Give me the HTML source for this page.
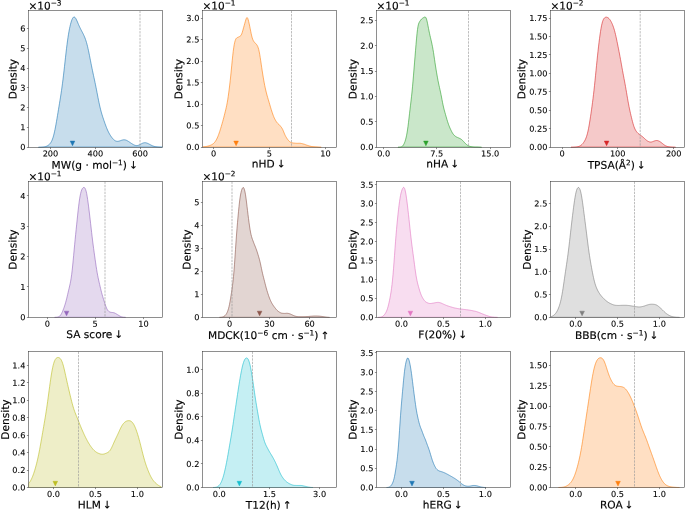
<!DOCTYPE html>
<html lang="en"><head><meta charset="utf-8"><title>ADMET property density plots</title>
<style>html,body{margin:0;padding:0;background:#fff}body{width:685px;height:510px;overflow:hidden}text{fill:#000;stroke:#000;stroke-width:0.16px;stroke-linejoin:round}.t{stroke-width:0.1px}</style></head>
<body>
<svg width="685" height="510" viewBox="0 0 685 510" text-rendering="geometricPrecision" style="display:block;font-family:'DejaVu Sans','Liberation Sans',sans-serif">
<rect width="685" height="510" fill="#fff"/>
<defs>
<clipPath id="c0"><rect x="28.50" y="10.70" width="134.00" height="136.80"/></clipPath>
<clipPath id="c1"><rect x="202.50" y="10.70" width="134.00" height="136.80"/></clipPath>
<clipPath id="c2"><rect x="376.50" y="10.70" width="134.00" height="136.80"/></clipPath>
<clipPath id="c3"><rect x="550.50" y="10.70" width="134.00" height="136.80"/></clipPath>
<clipPath id="c4"><rect x="28.50" y="181.50" width="134.00" height="136.00"/></clipPath>
<clipPath id="c5"><rect x="202.50" y="181.50" width="134.00" height="136.00"/></clipPath>
<clipPath id="c6"><rect x="376.50" y="181.50" width="134.00" height="136.00"/></clipPath>
<clipPath id="c7"><rect x="550.50" y="181.50" width="134.00" height="136.00"/></clipPath>
<clipPath id="c8"><rect x="28.50" y="351.50" width="134.00" height="136.00"/></clipPath>
<clipPath id="c9"><rect x="202.50" y="351.50" width="134.00" height="136.00"/></clipPath>
<clipPath id="c10"><rect x="376.50" y="351.50" width="134.00" height="136.00"/></clipPath>
<clipPath id="c11"><rect x="550.50" y="351.50" width="134.00" height="136.00"/></clipPath>
</defs>
<g id="ax0">
<g clip-path="url(#c0)">
<path d="M38.50 147.49 L39.00 147.48 L39.50 147.47 L40.00 147.46 L40.50 147.44 L41.00 147.42 L41.50 147.39 L42.00 147.35 L42.50 147.29 L43.00 147.23 L43.50 147.15 L44.00 147.05 L44.50 146.94 L45.00 146.80 L45.50 146.64 L46.00 146.46 L46.50 146.25 L47.00 146.01 L47.50 145.74 L48.00 145.44 L48.50 145.09 L49.00 144.69 L49.50 144.22 L50.00 143.68 L50.50 143.03 L51.00 142.27 L51.50 141.37 L52.00 140.30 L52.50 139.04 L53.00 137.57 L53.50 135.89 L54.00 133.98 L54.50 131.84 L55.00 129.48 L55.50 126.93 L56.00 124.22 L56.50 121.37 L57.00 118.43 L57.50 115.43 L58.00 112.40 L58.50 109.37 L59.00 106.34 L59.50 103.30 L60.00 100.23 L60.50 97.11 L61.00 93.89 L61.50 90.53 L62.00 86.99 L62.50 83.25 L63.00 79.30 L63.50 75.14 L64.00 70.81 L64.50 66.35 L65.00 61.84 L65.50 57.34 L66.00 52.92 L66.50 48.67 L67.00 44.64 L67.50 40.87 L68.00 37.39 L68.50 34.21 L69.00 31.33 L69.50 28.72 L70.00 26.39 L70.50 24.30 L71.00 22.46 L71.50 20.87 L72.00 19.52 L72.50 18.45 L73.00 17.66 L73.50 17.16 L74.00 16.96 L74.50 17.05 L75.00 17.42 L75.50 18.03 L76.00 18.85 L76.50 19.83 L77.00 20.92 L77.50 22.07 L78.00 23.24 L78.50 24.41 L79.00 25.55 L79.50 26.65 L80.00 27.70 L80.50 28.71 L81.00 29.70 L81.50 30.66 L82.00 31.61 L82.50 32.56 L83.00 33.54 L83.50 34.56 L84.00 35.63 L84.50 36.77 L85.00 38.01 L85.50 39.37 L86.00 40.86 L86.50 42.51 L87.00 44.32 L87.50 46.30 L88.00 48.44 L88.50 50.73 L89.00 53.14 L89.50 55.65 L90.00 58.20 L90.50 60.78 L91.00 63.34 L91.50 65.86 L92.00 68.32 L92.50 70.72 L93.00 73.08 L93.50 75.40 L94.00 77.71 L94.50 80.03 L95.00 82.40 L95.50 84.82 L96.00 87.30 L96.50 89.84 L97.00 92.43 L97.50 95.02 L98.00 97.60 L98.50 100.13 L99.00 102.57 L99.50 104.90 L100.00 107.10 L100.50 109.16 L101.00 111.09 L101.50 112.88 L102.00 114.58 L102.50 116.18 L103.00 117.72 L103.50 119.22 L104.00 120.68 L104.50 122.12 L105.00 123.53 L105.50 124.91 L106.00 126.26 L106.50 127.55 L107.00 128.79 L107.50 129.97 L108.00 131.07 L108.50 132.11 L109.00 133.07 L109.50 133.97 L110.00 134.82 L110.50 135.61 L111.00 136.35 L111.50 137.05 L112.00 137.71 L112.50 138.33 L113.00 138.90 L113.50 139.42 L114.00 139.88 L114.50 140.28 L115.00 140.62 L115.50 140.89 L116.00 141.09 L116.50 141.23 L117.00 141.31 L117.50 141.33 L118.00 141.29 L118.50 141.22 L119.00 141.11 L119.50 140.96 L120.00 140.80 L120.50 140.63 L121.00 140.45 L121.50 140.28 L122.00 140.12 L122.50 139.99 L123.00 139.88 L123.50 139.81 L124.00 139.78 L124.50 139.80 L125.00 139.87 L125.50 139.98 L126.00 140.14 L126.50 140.34 L127.00 140.58 L127.50 140.85 L128.00 141.14 L128.50 141.45 L129.00 141.78 L129.50 142.11 L130.00 142.45 L130.50 142.79 L131.00 143.13 L131.50 143.46 L132.00 143.78 L132.50 144.09 L133.00 144.38 L133.50 144.66 L134.00 144.90 L134.50 145.12 L135.00 145.30 L135.50 145.43 L136.00 145.53 L136.50 145.57 L137.00 145.56 L137.50 145.49 L138.00 145.38 L138.50 145.22 L139.00 145.02 L139.50 144.79 L140.00 144.53 L140.50 144.26 L141.00 143.98 L141.50 143.71 L142.00 143.45 L142.50 143.23 L143.00 143.03 L143.50 142.88 L144.00 142.77 L144.50 142.71 L145.00 142.70 L145.50 142.73 L146.00 142.82 L146.50 142.94 L147.00 143.10 L147.50 143.30 L148.00 143.52 L148.50 143.76 L149.00 144.01 L149.50 144.28 L150.00 144.55 L150.50 144.81 L151.00 145.07 L151.50 145.32 L152.00 145.56 L152.50 145.77 L153.00 145.97 L153.50 146.15 L154.00 146.31 L154.50 146.46 L155.00 146.58 L155.50 146.69 L156.00 146.78 L156.50 146.86 L157.00 146.93 L157.50 146.99 L158.00 147.05 L158.50 147.10 L159.00 147.15 L159.50 147.19 L160.00 147.23 L160.50 147.27 L161.00 147.30 L161.50 147.33 L162.00 147.36 L162.50 147.39 L163.00 147.41 L163.50 147.43 L164.00 147.44 L164.50 147.45 L165.00 147.47 L165.50 147.47 L166.00 147.48 L166.00 147.10 L38.50 147.10 Z" fill="#1f77b4" fill-opacity="0.25" stroke="none"/>
<path d="M38.50 147.49 L39.00 147.48 L39.50 147.47 L40.00 147.46 L40.50 147.44 L41.00 147.42 L41.50 147.39 L42.00 147.35 L42.50 147.29 L43.00 147.23 L43.50 147.15 L44.00 147.05 L44.50 146.94 L45.00 146.80 L45.50 146.64 L46.00 146.46 L46.50 146.25 L47.00 146.01 L47.50 145.74 L48.00 145.44 L48.50 145.09 L49.00 144.69 L49.50 144.22 L50.00 143.68 L50.50 143.03 L51.00 142.27 L51.50 141.37 L52.00 140.30 L52.50 139.04 L53.00 137.57 L53.50 135.89 L54.00 133.98 L54.50 131.84 L55.00 129.48 L55.50 126.93 L56.00 124.22 L56.50 121.37 L57.00 118.43 L57.50 115.43 L58.00 112.40 L58.50 109.37 L59.00 106.34 L59.50 103.30 L60.00 100.23 L60.50 97.11 L61.00 93.89 L61.50 90.53 L62.00 86.99 L62.50 83.25 L63.00 79.30 L63.50 75.14 L64.00 70.81 L64.50 66.35 L65.00 61.84 L65.50 57.34 L66.00 52.92 L66.50 48.67 L67.00 44.64 L67.50 40.87 L68.00 37.39 L68.50 34.21 L69.00 31.33 L69.50 28.72 L70.00 26.39 L70.50 24.30 L71.00 22.46 L71.50 20.87 L72.00 19.52 L72.50 18.45 L73.00 17.66 L73.50 17.16 L74.00 16.96 L74.50 17.05 L75.00 17.42 L75.50 18.03 L76.00 18.85 L76.50 19.83 L77.00 20.92 L77.50 22.07 L78.00 23.24 L78.50 24.41 L79.00 25.55 L79.50 26.65 L80.00 27.70 L80.50 28.71 L81.00 29.70 L81.50 30.66 L82.00 31.61 L82.50 32.56 L83.00 33.54 L83.50 34.56 L84.00 35.63 L84.50 36.77 L85.00 38.01 L85.50 39.37 L86.00 40.86 L86.50 42.51 L87.00 44.32 L87.50 46.30 L88.00 48.44 L88.50 50.73 L89.00 53.14 L89.50 55.65 L90.00 58.20 L90.50 60.78 L91.00 63.34 L91.50 65.86 L92.00 68.32 L92.50 70.72 L93.00 73.08 L93.50 75.40 L94.00 77.71 L94.50 80.03 L95.00 82.40 L95.50 84.82 L96.00 87.30 L96.50 89.84 L97.00 92.43 L97.50 95.02 L98.00 97.60 L98.50 100.13 L99.00 102.57 L99.50 104.90 L100.00 107.10 L100.50 109.16 L101.00 111.09 L101.50 112.88 L102.00 114.58 L102.50 116.18 L103.00 117.72 L103.50 119.22 L104.00 120.68 L104.50 122.12 L105.00 123.53 L105.50 124.91 L106.00 126.26 L106.50 127.55 L107.00 128.79 L107.50 129.97 L108.00 131.07 L108.50 132.11 L109.00 133.07 L109.50 133.97 L110.00 134.82 L110.50 135.61 L111.00 136.35 L111.50 137.05 L112.00 137.71 L112.50 138.33 L113.00 138.90 L113.50 139.42 L114.00 139.88 L114.50 140.28 L115.00 140.62 L115.50 140.89 L116.00 141.09 L116.50 141.23 L117.00 141.31 L117.50 141.33 L118.00 141.29 L118.50 141.22 L119.00 141.11 L119.50 140.96 L120.00 140.80 L120.50 140.63 L121.00 140.45 L121.50 140.28 L122.00 140.12 L122.50 139.99 L123.00 139.88 L123.50 139.81 L124.00 139.78 L124.50 139.80 L125.00 139.87 L125.50 139.98 L126.00 140.14 L126.50 140.34 L127.00 140.58 L127.50 140.85 L128.00 141.14 L128.50 141.45 L129.00 141.78 L129.50 142.11 L130.00 142.45 L130.50 142.79 L131.00 143.13 L131.50 143.46 L132.00 143.78 L132.50 144.09 L133.00 144.38 L133.50 144.66 L134.00 144.90 L134.50 145.12 L135.00 145.30 L135.50 145.43 L136.00 145.53 L136.50 145.57 L137.00 145.56 L137.50 145.49 L138.00 145.38 L138.50 145.22 L139.00 145.02 L139.50 144.79 L140.00 144.53 L140.50 144.26 L141.00 143.98 L141.50 143.71 L142.00 143.45 L142.50 143.23 L143.00 143.03 L143.50 142.88 L144.00 142.77 L144.50 142.71 L145.00 142.70 L145.50 142.73 L146.00 142.82 L146.50 142.94 L147.00 143.10 L147.50 143.30 L148.00 143.52 L148.50 143.76 L149.00 144.01 L149.50 144.28 L150.00 144.55 L150.50 144.81 L151.00 145.07 L151.50 145.32 L152.00 145.56 L152.50 145.77 L153.00 145.97 L153.50 146.15 L154.00 146.31 L154.50 146.46 L155.00 146.58 L155.50 146.69 L156.00 146.78 L156.50 146.86 L157.00 146.93 L157.50 146.99 L158.00 147.05 L158.50 147.10 L159.00 147.15 L159.50 147.19 L160.00 147.23 L160.50 147.27 L161.00 147.30 L161.50 147.33 L162.00 147.36 L162.50 147.39 L163.00 147.41 L163.50 147.43 L164.00 147.44 L164.50 147.45 L165.00 147.47 L165.50 147.47 L166.00 147.48 L166.00 147.10 L38.50 147.10 Z" fill="none" stroke="#1f77b4" stroke-width="0.6" stroke-linejoin="round"/>
<line x1="140.00" y1="10.70" x2="140.00" y2="147.50" stroke="#999" stroke-width="0.64" stroke-dasharray="2.37 1.03"/>
<path d="M70.20 141.10 L74.80 141.10 L72.50 145.70 Z" fill="#1f77b4" stroke="#1f77b4" stroke-width="0.5" stroke-linejoin="miter"/>
</g>
<line x1="50.50" y1="147.50" x2="50.50" y2="149.10" stroke="#333" stroke-width="0.55"/>
<text transform="translate(50.47 156.50) rotate(0.03)" class="t" font-size="8.2" text-anchor="middle">200</text>
<line x1="95.50" y1="147.50" x2="95.50" y2="149.10" stroke="#333" stroke-width="0.55"/>
<text transform="translate(95.42 156.50) rotate(0.03)" class="t" font-size="8.2" text-anchor="middle">400</text>
<line x1="140.50" y1="147.50" x2="140.50" y2="149.10" stroke="#333" stroke-width="0.55"/>
<text transform="translate(140.11 156.50) rotate(0.03)" class="t" font-size="8.2" text-anchor="middle">600</text>
<line x1="26.90" y1="147.50" x2="28.50" y2="147.50" stroke="#333" stroke-width="0.55"/>
<text transform="translate(25.40 150.10) rotate(0.03)" class="t" font-size="8.2" text-anchor="end">0</text>
<line x1="26.90" y1="127.50" x2="28.50" y2="127.50" stroke="#333" stroke-width="0.55"/>
<text transform="translate(25.40 130.35) rotate(0.03)" class="t" font-size="8.2" text-anchor="end">1</text>
<line x1="26.90" y1="107.50" x2="28.50" y2="107.50" stroke="#333" stroke-width="0.55"/>
<text transform="translate(25.40 110.60) rotate(0.03)" class="t" font-size="8.2" text-anchor="end">2</text>
<line x1="26.90" y1="87.50" x2="28.50" y2="87.50" stroke="#333" stroke-width="0.55"/>
<text transform="translate(25.40 90.85) rotate(0.03)" class="t" font-size="8.2" text-anchor="end">3</text>
<line x1="26.90" y1="68.50" x2="28.50" y2="68.50" stroke="#333" stroke-width="0.55"/>
<text transform="translate(25.40 71.10) rotate(0.03)" class="t" font-size="8.2" text-anchor="end">4</text>
<line x1="26.90" y1="48.50" x2="28.50" y2="48.50" stroke="#333" stroke-width="0.55"/>
<text transform="translate(25.40 51.35) rotate(0.03)" class="t" font-size="8.2" text-anchor="end">5</text>
<line x1="26.90" y1="28.50" x2="28.50" y2="28.50" stroke="#333" stroke-width="0.55"/>
<text transform="translate(25.40 31.60) rotate(0.03)" class="t" font-size="8.2" text-anchor="end">6</text>
<rect x="28.50" y="10.70" width="134.00" height="136.80" fill="none" stroke="#333" stroke-width="0.55"/>
<text transform="translate(28.50 9.40) rotate(0.03)" font-size="10.5">×10<tspan font-size="7.35" dy="-3.88">−3</tspan></text>
<text transform="translate(16.50 79.10) rotate(-90.03)" font-size="10.6" text-anchor="middle">Density</text>
<text transform="translate(94.70 168.80) rotate(0.03)" font-size="10.6" text-anchor="middle">MW(g · mol<tspan font-size="7.42" dy="-3.60">−1</tspan><tspan dy="3.60">) <tspan dx="-1.4">↓</tspan></tspan></text>
</g>
<g id="ax1">
<g clip-path="url(#c1)">
<path d="M202.71 146.94 L203.21 146.91 L203.71 146.86 L204.21 146.79 L204.71 146.72 L205.21 146.64 L205.71 146.56 L206.21 146.48 L206.71 146.38 L207.21 146.27 L207.71 146.14 L208.21 146.01 L208.71 145.86 L209.21 145.71 L209.71 145.55 L210.21 145.37 L210.71 145.17 L211.21 144.95 L211.71 144.70 L212.21 144.42 L212.71 144.10 L213.21 143.73 L213.71 143.30 L214.21 142.80 L214.71 142.22 L215.21 141.56 L215.71 140.81 L216.21 139.98 L216.71 139.07 L217.21 138.05 L217.71 136.93 L218.21 135.70 L218.71 134.37 L219.21 132.96 L219.71 131.46 L220.21 129.90 L220.71 128.29 L221.21 126.63 L221.71 124.94 L222.21 123.21 L222.71 121.44 L223.21 119.62 L223.71 117.74 L224.21 115.81 L224.71 113.83 L225.21 111.82 L225.71 109.77 L226.21 107.63 L226.71 105.32 L227.21 102.75 L227.71 99.83 L228.21 96.56 L228.71 92.98 L229.21 89.13 L229.71 85.03 L230.21 80.65 L230.71 75.95 L231.21 70.97 L231.71 65.80 L232.21 60.67 L232.71 55.81 L233.21 51.46 L233.71 47.73 L234.21 44.68 L234.71 42.29 L235.21 40.51 L235.71 39.25 L236.21 38.43 L236.71 37.92 L237.21 37.61 L237.71 37.39 L238.21 37.17 L238.71 36.94 L239.21 36.70 L239.71 36.43 L240.21 36.11 L240.71 35.66 L241.21 34.95 L241.71 33.90 L242.21 32.50 L242.71 30.83 L243.21 29.03 L243.71 27.21 L244.21 25.41 L244.71 23.62 L245.21 21.82 L245.71 20.10 L246.21 18.66 L246.71 17.77 L247.21 17.64 L247.71 18.34 L248.21 19.75 L248.71 21.66 L249.21 23.88 L249.71 26.26 L250.21 28.75 L250.71 31.27 L251.21 33.72 L251.71 35.95 L252.21 37.82 L252.71 39.29 L253.21 40.40 L253.71 41.26 L254.21 41.95 L254.71 42.54 L255.21 43.08 L255.71 43.58 L256.21 44.09 L256.71 44.70 L257.21 45.46 L257.71 46.46 L258.21 47.79 L258.71 49.51 L259.21 51.70 L259.71 54.35 L260.21 57.41 L260.71 60.73 L261.21 64.15 L261.71 67.55 L262.21 70.85 L262.71 74.05 L263.21 77.12 L263.71 80.06 L264.21 82.82 L264.71 85.40 L265.21 87.79 L265.71 90.02 L266.21 92.10 L266.71 94.06 L267.21 95.89 L267.71 97.63 L268.21 99.30 L268.71 100.96 L269.21 102.65 L269.71 104.37 L270.21 106.11 L270.71 107.80 L271.21 109.43 L271.71 110.99 L272.21 112.50 L272.71 113.96 L273.21 115.35 L273.71 116.63 L274.21 117.79 L274.71 118.83 L275.21 119.78 L275.71 120.65 L276.21 121.46 L276.71 122.19 L277.21 122.82 L277.71 123.35 L278.21 123.82 L278.71 124.28 L279.21 124.77 L279.71 125.30 L280.21 125.87 L280.71 126.47 L281.21 127.09 L281.71 127.77 L282.21 128.58 L282.71 129.54 L283.21 130.66 L283.71 131.89 L284.21 133.15 L284.71 134.35 L285.21 135.43 L285.71 136.40 L286.21 137.25 L286.71 138.04 L287.21 138.78 L287.71 139.48 L288.21 140.13 L288.71 140.72 L289.21 141.23 L289.71 141.65 L290.21 141.99 L290.71 142.26 L291.21 142.47 L291.71 142.64 L292.21 142.78 L292.71 142.89 L293.21 142.97 L293.71 143.04 L294.21 143.10 L294.71 143.15 L295.21 143.20 L295.71 143.24 L296.21 143.28 L296.71 143.30 L297.21 143.30 L297.71 143.30 L298.21 143.29 L298.71 143.27 L299.21 143.27 L299.71 143.28 L300.21 143.30 L300.71 143.36 L301.21 143.44 L301.71 143.54 L302.21 143.65 L302.71 143.78 L303.21 143.91 L303.71 144.05 L304.21 144.20 L304.71 144.37 L305.21 144.56 L305.71 144.75 L306.21 144.94 L306.71 145.11 L307.21 145.28 L307.71 145.44 L308.21 145.60 L308.71 145.76 L309.21 145.92 L309.71 146.06 L310.21 146.20 L310.71 146.31 L311.21 146.41 L311.71 146.50 L312.21 146.58 L312.71 146.66 L313.21 146.73 L313.71 146.79 L314.21 146.84 L314.71 146.88 L315.21 146.92 L315.71 146.95 L316.21 147.00 L316.71 147.06 L317.21 147.13 L317.71 147.20 L318.21 147.27 L318.71 147.34 L319.21 147.39 L319.71 147.43 L320.21 147.46 L320.71 147.48 L321.21 147.49 L321.21 147.10 L202.71 147.10 Z" fill="#ff7f0e" fill-opacity="0.25" stroke="none"/>
<path d="M202.71 146.94 L203.21 146.91 L203.71 146.86 L204.21 146.79 L204.71 146.72 L205.21 146.64 L205.71 146.56 L206.21 146.48 L206.71 146.38 L207.21 146.27 L207.71 146.14 L208.21 146.01 L208.71 145.86 L209.21 145.71 L209.71 145.55 L210.21 145.37 L210.71 145.17 L211.21 144.95 L211.71 144.70 L212.21 144.42 L212.71 144.10 L213.21 143.73 L213.71 143.30 L214.21 142.80 L214.71 142.22 L215.21 141.56 L215.71 140.81 L216.21 139.98 L216.71 139.07 L217.21 138.05 L217.71 136.93 L218.21 135.70 L218.71 134.37 L219.21 132.96 L219.71 131.46 L220.21 129.90 L220.71 128.29 L221.21 126.63 L221.71 124.94 L222.21 123.21 L222.71 121.44 L223.21 119.62 L223.71 117.74 L224.21 115.81 L224.71 113.83 L225.21 111.82 L225.71 109.77 L226.21 107.63 L226.71 105.32 L227.21 102.75 L227.71 99.83 L228.21 96.56 L228.71 92.98 L229.21 89.13 L229.71 85.03 L230.21 80.65 L230.71 75.95 L231.21 70.97 L231.71 65.80 L232.21 60.67 L232.71 55.81 L233.21 51.46 L233.71 47.73 L234.21 44.68 L234.71 42.29 L235.21 40.51 L235.71 39.25 L236.21 38.43 L236.71 37.92 L237.21 37.61 L237.71 37.39 L238.21 37.17 L238.71 36.94 L239.21 36.70 L239.71 36.43 L240.21 36.11 L240.71 35.66 L241.21 34.95 L241.71 33.90 L242.21 32.50 L242.71 30.83 L243.21 29.03 L243.71 27.21 L244.21 25.41 L244.71 23.62 L245.21 21.82 L245.71 20.10 L246.21 18.66 L246.71 17.77 L247.21 17.64 L247.71 18.34 L248.21 19.75 L248.71 21.66 L249.21 23.88 L249.71 26.26 L250.21 28.75 L250.71 31.27 L251.21 33.72 L251.71 35.95 L252.21 37.82 L252.71 39.29 L253.21 40.40 L253.71 41.26 L254.21 41.95 L254.71 42.54 L255.21 43.08 L255.71 43.58 L256.21 44.09 L256.71 44.70 L257.21 45.46 L257.71 46.46 L258.21 47.79 L258.71 49.51 L259.21 51.70 L259.71 54.35 L260.21 57.41 L260.71 60.73 L261.21 64.15 L261.71 67.55 L262.21 70.85 L262.71 74.05 L263.21 77.12 L263.71 80.06 L264.21 82.82 L264.71 85.40 L265.21 87.79 L265.71 90.02 L266.21 92.10 L266.71 94.06 L267.21 95.89 L267.71 97.63 L268.21 99.30 L268.71 100.96 L269.21 102.65 L269.71 104.37 L270.21 106.11 L270.71 107.80 L271.21 109.43 L271.71 110.99 L272.21 112.50 L272.71 113.96 L273.21 115.35 L273.71 116.63 L274.21 117.79 L274.71 118.83 L275.21 119.78 L275.71 120.65 L276.21 121.46 L276.71 122.19 L277.21 122.82 L277.71 123.35 L278.21 123.82 L278.71 124.28 L279.21 124.77 L279.71 125.30 L280.21 125.87 L280.71 126.47 L281.21 127.09 L281.71 127.77 L282.21 128.58 L282.71 129.54 L283.21 130.66 L283.71 131.89 L284.21 133.15 L284.71 134.35 L285.21 135.43 L285.71 136.40 L286.21 137.25 L286.71 138.04 L287.21 138.78 L287.71 139.48 L288.21 140.13 L288.71 140.72 L289.21 141.23 L289.71 141.65 L290.21 141.99 L290.71 142.26 L291.21 142.47 L291.71 142.64 L292.21 142.78 L292.71 142.89 L293.21 142.97 L293.71 143.04 L294.21 143.10 L294.71 143.15 L295.21 143.20 L295.71 143.24 L296.21 143.28 L296.71 143.30 L297.21 143.30 L297.71 143.30 L298.21 143.29 L298.71 143.27 L299.21 143.27 L299.71 143.28 L300.21 143.30 L300.71 143.36 L301.21 143.44 L301.71 143.54 L302.21 143.65 L302.71 143.78 L303.21 143.91 L303.71 144.05 L304.21 144.20 L304.71 144.37 L305.21 144.56 L305.71 144.75 L306.21 144.94 L306.71 145.11 L307.21 145.28 L307.71 145.44 L308.21 145.60 L308.71 145.76 L309.21 145.92 L309.71 146.06 L310.21 146.20 L310.71 146.31 L311.21 146.41 L311.71 146.50 L312.21 146.58 L312.71 146.66 L313.21 146.73 L313.71 146.79 L314.21 146.84 L314.71 146.88 L315.21 146.92 L315.71 146.95 L316.21 147.00 L316.71 147.06 L317.21 147.13 L317.71 147.20 L318.21 147.27 L318.71 147.34 L319.21 147.39 L319.71 147.43 L320.21 147.46 L320.71 147.48 L321.21 147.49 L321.21 147.10 L202.71 147.10 Z" fill="none" stroke="#ff7f0e" stroke-width="0.6" stroke-linejoin="round"/>
<line x1="291.50" y1="10.70" x2="291.50" y2="147.50" stroke="#999" stroke-width="0.64" stroke-dasharray="2.37 1.03"/>
<path d="M233.80 141.10 L238.40 141.10 L236.10 145.70 Z" fill="#ff7f0e" stroke="#ff7f0e" stroke-width="0.5" stroke-linejoin="miter"/>
</g>
<line x1="213.50" y1="147.50" x2="213.50" y2="149.10" stroke="#333" stroke-width="0.55"/>
<text transform="translate(213.68 156.50) rotate(0.03)" class="t" font-size="8.2" text-anchor="middle">0</text>
<line x1="269.50" y1="147.50" x2="269.50" y2="149.10" stroke="#333" stroke-width="0.55"/>
<text transform="translate(269.42 156.50) rotate(0.03)" class="t" font-size="8.2" text-anchor="middle">5</text>
<line x1="325.50" y1="147.50" x2="325.50" y2="149.10" stroke="#333" stroke-width="0.55"/>
<text transform="translate(325.42 156.50) rotate(0.03)" class="t" font-size="8.2" text-anchor="middle">10</text>
<line x1="200.90" y1="147.50" x2="202.50" y2="147.50" stroke="#333" stroke-width="0.55"/>
<text transform="translate(199.40 150.10) rotate(0.03)" class="t" font-size="8.2" text-anchor="end">0.0</text>
<line x1="200.90" y1="125.50" x2="202.50" y2="125.50" stroke="#333" stroke-width="0.55"/>
<text transform="translate(199.40 128.60) rotate(0.03)" class="t" font-size="8.2" text-anchor="end">0.5</text>
<line x1="200.90" y1="104.50" x2="202.50" y2="104.50" stroke="#333" stroke-width="0.55"/>
<text transform="translate(199.40 107.10) rotate(0.03)" class="t" font-size="8.2" text-anchor="end">1.0</text>
<line x1="200.90" y1="82.50" x2="202.50" y2="82.50" stroke="#333" stroke-width="0.55"/>
<text transform="translate(199.40 85.60) rotate(0.03)" class="t" font-size="8.2" text-anchor="end">1.5</text>
<line x1="200.90" y1="61.50" x2="202.50" y2="61.50" stroke="#333" stroke-width="0.55"/>
<text transform="translate(199.40 64.10) rotate(0.03)" class="t" font-size="8.2" text-anchor="end">2.0</text>
<line x1="200.90" y1="39.50" x2="202.50" y2="39.50" stroke="#333" stroke-width="0.55"/>
<text transform="translate(199.40 42.60) rotate(0.03)" class="t" font-size="8.2" text-anchor="end">2.5</text>
<line x1="200.90" y1="18.50" x2="202.50" y2="18.50" stroke="#333" stroke-width="0.55"/>
<text transform="translate(199.40 21.10) rotate(0.03)" class="t" font-size="8.2" text-anchor="end">3.0</text>
<rect x="202.50" y="10.70" width="134.00" height="136.80" fill="none" stroke="#333" stroke-width="0.55"/>
<text transform="translate(202.50 9.40) rotate(0.03)" font-size="10.5">×10<tspan font-size="7.35" dy="-3.88">−1</tspan></text>
<text transform="translate(182.30 79.10) rotate(-90.03)" font-size="10.6" text-anchor="middle">Density</text>
<text transform="translate(268.70 167.60) rotate(0.03)" font-size="10.6" text-anchor="middle">nHD <tspan dx="-1.4">↓</tspan></text>
</g>
<g id="ax2">
<g clip-path="url(#c2)">
<path d="M398.00 147.49 L398.50 147.48 L399.00 147.46 L399.50 147.42 L400.00 147.36 L400.50 147.26 L401.00 147.11 L401.50 146.88 L402.00 146.56 L402.50 146.13 L403.00 145.56 L403.50 144.82 L404.00 143.90 L404.50 142.78 L405.00 141.43 L405.50 139.84 L406.00 137.96 L406.50 135.73 L407.00 133.08 L407.50 129.97 L408.00 126.38 L408.50 122.37 L409.00 118.09 L409.50 113.72 L410.00 109.41 L410.50 105.22 L411.00 101.05 L411.50 96.71 L412.00 91.99 L412.50 86.78 L413.00 81.12 L413.50 75.15 L414.00 69.05 L414.50 62.93 L415.00 56.83 L415.50 50.73 L416.00 44.68 L416.50 38.89 L417.00 33.70 L417.50 29.44 L418.00 26.27 L418.50 24.13 L419.00 22.77 L419.50 21.83 L420.00 21.06 L420.50 20.33 L421.00 19.66 L421.50 19.09 L422.00 18.63 L422.50 18.27 L423.00 17.96 L423.50 17.64 L424.00 17.33 L424.50 17.08 L425.00 16.98 L425.50 17.18 L426.00 17.84 L426.50 19.07 L427.00 20.91 L427.50 23.22 L428.00 25.80 L428.50 28.42 L429.00 30.94 L429.50 33.29 L430.00 35.52 L430.50 37.68 L431.00 39.83 L431.50 42.00 L432.00 44.26 L432.50 46.73 L433.00 49.47 L433.50 52.52 L434.00 55.82 L434.50 59.25 L435.00 62.65 L435.50 65.95 L436.00 69.11 L436.50 72.13 L437.00 75.04 L437.50 77.84 L438.00 80.50 L438.50 83.00 L439.00 85.35 L439.50 87.59 L440.00 89.80 L440.50 92.07 L441.00 94.47 L441.50 97.02 L442.00 99.67 L442.50 102.29 L443.00 104.78 L443.50 107.04 L444.00 109.09 L444.50 110.96 L445.00 112.75 L445.50 114.51 L446.00 116.27 L446.50 118.01 L447.00 119.71 L447.50 121.34 L448.00 122.88 L448.50 124.32 L449.00 125.67 L449.50 126.92 L450.00 128.08 L450.50 129.18 L451.00 130.23 L451.50 131.24 L452.00 132.19 L452.50 133.06 L453.00 133.83 L453.50 134.49 L454.00 135.06 L454.50 135.55 L455.00 135.97 L455.50 136.35 L456.00 136.68 L456.50 136.96 L457.00 137.20 L457.50 137.43 L458.00 137.65 L458.50 137.87 L459.00 138.11 L459.50 138.34 L460.00 138.59 L460.50 138.84 L461.00 139.14 L461.50 139.49 L462.00 139.91 L462.50 140.38 L463.00 140.90 L463.50 141.45 L464.00 142.00 L464.50 142.55 L465.00 143.09 L465.50 143.60 L466.00 144.08 L466.50 144.52 L467.00 144.91 L467.50 145.26 L468.00 145.56 L468.50 145.82 L469.00 146.04 L469.50 146.24 L470.00 146.40 L470.50 146.53 L471.00 146.64 L471.50 146.74 L472.00 146.83 L472.50 146.92 L473.00 147.00 L473.50 147.07 L474.00 147.13 L474.50 147.17 L475.00 147.19 L475.50 147.19 L476.00 147.19 L476.50 147.19 L477.00 147.20 L477.50 147.22 L478.00 147.26 L478.50 147.30 L479.00 147.34 L479.50 147.38 L480.00 147.42 L480.50 147.45 L481.00 147.47 L481.50 147.48 L481.50 147.10 L398.00 147.10 Z" fill="#2ca02c" fill-opacity="0.25" stroke="none"/>
<path d="M398.00 147.49 L398.50 147.48 L399.00 147.46 L399.50 147.42 L400.00 147.36 L400.50 147.26 L401.00 147.11 L401.50 146.88 L402.00 146.56 L402.50 146.13 L403.00 145.56 L403.50 144.82 L404.00 143.90 L404.50 142.78 L405.00 141.43 L405.50 139.84 L406.00 137.96 L406.50 135.73 L407.00 133.08 L407.50 129.97 L408.00 126.38 L408.50 122.37 L409.00 118.09 L409.50 113.72 L410.00 109.41 L410.50 105.22 L411.00 101.05 L411.50 96.71 L412.00 91.99 L412.50 86.78 L413.00 81.12 L413.50 75.15 L414.00 69.05 L414.50 62.93 L415.00 56.83 L415.50 50.73 L416.00 44.68 L416.50 38.89 L417.00 33.70 L417.50 29.44 L418.00 26.27 L418.50 24.13 L419.00 22.77 L419.50 21.83 L420.00 21.06 L420.50 20.33 L421.00 19.66 L421.50 19.09 L422.00 18.63 L422.50 18.27 L423.00 17.96 L423.50 17.64 L424.00 17.33 L424.50 17.08 L425.00 16.98 L425.50 17.18 L426.00 17.84 L426.50 19.07 L427.00 20.91 L427.50 23.22 L428.00 25.80 L428.50 28.42 L429.00 30.94 L429.50 33.29 L430.00 35.52 L430.50 37.68 L431.00 39.83 L431.50 42.00 L432.00 44.26 L432.50 46.73 L433.00 49.47 L433.50 52.52 L434.00 55.82 L434.50 59.25 L435.00 62.65 L435.50 65.95 L436.00 69.11 L436.50 72.13 L437.00 75.04 L437.50 77.84 L438.00 80.50 L438.50 83.00 L439.00 85.35 L439.50 87.59 L440.00 89.80 L440.50 92.07 L441.00 94.47 L441.50 97.02 L442.00 99.67 L442.50 102.29 L443.00 104.78 L443.50 107.04 L444.00 109.09 L444.50 110.96 L445.00 112.75 L445.50 114.51 L446.00 116.27 L446.50 118.01 L447.00 119.71 L447.50 121.34 L448.00 122.88 L448.50 124.32 L449.00 125.67 L449.50 126.92 L450.00 128.08 L450.50 129.18 L451.00 130.23 L451.50 131.24 L452.00 132.19 L452.50 133.06 L453.00 133.83 L453.50 134.49 L454.00 135.06 L454.50 135.55 L455.00 135.97 L455.50 136.35 L456.00 136.68 L456.50 136.96 L457.00 137.20 L457.50 137.43 L458.00 137.65 L458.50 137.87 L459.00 138.11 L459.50 138.34 L460.00 138.59 L460.50 138.84 L461.00 139.14 L461.50 139.49 L462.00 139.91 L462.50 140.38 L463.00 140.90 L463.50 141.45 L464.00 142.00 L464.50 142.55 L465.00 143.09 L465.50 143.60 L466.00 144.08 L466.50 144.52 L467.00 144.91 L467.50 145.26 L468.00 145.56 L468.50 145.82 L469.00 146.04 L469.50 146.24 L470.00 146.40 L470.50 146.53 L471.00 146.64 L471.50 146.74 L472.00 146.83 L472.50 146.92 L473.00 147.00 L473.50 147.07 L474.00 147.13 L474.50 147.17 L475.00 147.19 L475.50 147.19 L476.00 147.19 L476.50 147.19 L477.00 147.20 L477.50 147.22 L478.00 147.26 L478.50 147.30 L479.00 147.34 L479.50 147.38 L480.00 147.42 L480.50 147.45 L481.00 147.47 L481.50 147.48 L481.50 147.10 L398.00 147.10 Z" fill="none" stroke="#2ca02c" stroke-width="0.6" stroke-linejoin="round"/>
<line x1="468.50" y1="10.70" x2="468.50" y2="147.50" stroke="#999" stroke-width="0.64" stroke-dasharray="2.37 1.03"/>
<path d="M423.60 141.10 L428.20 141.10 L425.90 145.70 Z" fill="#2ca02c" stroke="#2ca02c" stroke-width="0.5" stroke-linejoin="miter"/>
</g>
<line x1="383.50" y1="147.50" x2="383.50" y2="149.10" stroke="#333" stroke-width="0.55"/>
<text transform="translate(383.67 156.50) rotate(0.03)" class="t" font-size="8.2" text-anchor="middle">0.0</text>
<line x1="436.50" y1="147.50" x2="436.50" y2="149.10" stroke="#333" stroke-width="0.55"/>
<text transform="translate(436.65 156.50) rotate(0.03)" class="t" font-size="8.2" text-anchor="middle">7.5</text>
<line x1="490.50" y1="147.50" x2="490.50" y2="149.10" stroke="#333" stroke-width="0.55"/>
<text transform="translate(490.14 156.50) rotate(0.03)" class="t" font-size="8.2" text-anchor="middle">15.0</text>
<line x1="374.90" y1="147.50" x2="376.50" y2="147.50" stroke="#333" stroke-width="0.55"/>
<text transform="translate(373.40 150.10) rotate(0.03)" class="t" font-size="8.2" text-anchor="end">0.0</text>
<line x1="374.90" y1="121.50" x2="376.50" y2="121.50" stroke="#333" stroke-width="0.55"/>
<text transform="translate(373.40 124.74) rotate(0.03)" class="t" font-size="8.2" text-anchor="end">0.5</text>
<line x1="374.90" y1="96.50" x2="376.50" y2="96.50" stroke="#333" stroke-width="0.55"/>
<text transform="translate(373.40 99.38) rotate(0.03)" class="t" font-size="8.2" text-anchor="end">1.0</text>
<line x1="374.90" y1="71.50" x2="376.50" y2="71.50" stroke="#333" stroke-width="0.55"/>
<text transform="translate(373.40 74.02) rotate(0.03)" class="t" font-size="8.2" text-anchor="end">1.5</text>
<line x1="374.90" y1="45.50" x2="376.50" y2="45.50" stroke="#333" stroke-width="0.55"/>
<text transform="translate(373.40 48.66) rotate(0.03)" class="t" font-size="8.2" text-anchor="end">2.0</text>
<line x1="374.90" y1="20.50" x2="376.50" y2="20.50" stroke="#333" stroke-width="0.55"/>
<text transform="translate(373.40 23.30) rotate(0.03)" class="t" font-size="8.2" text-anchor="end">2.5</text>
<rect x="376.50" y="10.70" width="134.00" height="136.80" fill="none" stroke="#333" stroke-width="0.55"/>
<text transform="translate(376.50 9.40) rotate(0.03)" font-size="10.5">×10<tspan font-size="7.35" dy="-3.88">−1</tspan></text>
<text transform="translate(356.60 79.10) rotate(-90.03)" font-size="10.6" text-anchor="middle">Density</text>
<text transform="translate(442.70 167.60) rotate(0.03)" font-size="10.6" text-anchor="middle">nHA <tspan dx="-1.4">↓</tspan></text>
</g>
<g id="ax3">
<g clip-path="url(#c3)">
<path d="M571.00 147.49 L571.50 147.48 L572.00 147.47 L572.50 147.45 L573.00 147.43 L573.50 147.40 L574.00 147.37 L574.50 147.32 L575.00 147.26 L575.50 147.20 L576.00 147.11 L576.50 147.02 L577.00 146.91 L577.50 146.79 L578.00 146.66 L578.50 146.50 L579.00 146.33 L579.50 146.13 L580.00 145.89 L580.50 145.61 L581.00 145.28 L581.50 144.88 L582.00 144.43 L582.50 143.91 L583.00 143.31 L583.50 142.65 L584.00 141.91 L584.50 141.10 L585.00 140.19 L585.50 139.16 L586.00 137.98 L586.50 136.62 L587.00 135.04 L587.50 133.19 L588.00 131.08 L588.50 128.68 L589.00 126.01 L589.50 123.10 L590.00 120.00 L590.50 116.74 L591.00 113.36 L591.50 109.88 L592.00 106.29 L592.50 102.55 L593.00 98.64 L593.50 94.50 L594.00 90.13 L594.50 85.51 L595.00 80.69 L595.50 75.71 L596.00 70.66 L596.50 65.63 L597.00 60.69 L597.50 55.89 L598.00 51.28 L598.50 46.87 L599.00 42.67 L599.50 38.71 L600.00 35.00 L600.50 31.59 L601.00 28.53 L601.50 25.86 L602.00 23.61 L602.50 21.78 L603.00 20.35 L603.50 19.26 L604.00 18.47 L604.50 17.91 L605.00 17.53 L605.50 17.29 L606.00 17.17 L606.50 17.16 L607.00 17.25 L607.50 17.45 L608.00 17.74 L608.50 18.12 L609.00 18.60 L609.50 19.16 L610.00 19.82 L610.50 20.58 L611.00 21.44 L611.50 22.40 L612.00 23.46 L612.50 24.63 L613.00 25.91 L613.50 27.31 L614.00 28.86 L614.50 30.56 L615.00 32.43 L615.50 34.47 L616.00 36.67 L616.50 38.99 L617.00 41.41 L617.50 43.87 L618.00 46.36 L618.50 48.87 L619.00 51.40 L619.50 53.98 L620.00 56.63 L620.50 59.34 L621.00 62.11 L621.50 64.92 L622.00 67.71 L622.50 70.47 L623.00 73.18 L623.50 75.82 L624.00 78.44 L624.50 81.07 L625.00 83.75 L625.50 86.52 L626.00 89.38 L626.50 92.33 L627.00 95.30 L627.50 98.26 L628.00 101.13 L628.50 103.87 L629.00 106.47 L629.50 108.92 L630.00 111.23 L630.50 113.45 L631.00 115.59 L631.50 117.68 L632.00 119.70 L632.50 121.65 L633.00 123.48 L633.50 125.16 L634.00 126.67 L634.50 127.99 L635.00 129.12 L635.50 130.08 L636.00 130.89 L636.50 131.58 L637.00 132.20 L637.50 132.75 L638.00 133.26 L638.50 133.73 L639.00 134.16 L639.50 134.56 L640.00 134.92 L640.50 135.26 L641.00 135.59 L641.50 135.92 L642.00 136.28 L642.50 136.66 L643.00 137.09 L643.50 137.54 L644.00 138.01 L644.50 138.49 L645.00 138.97 L645.50 139.43 L646.00 139.86 L646.50 140.27 L647.00 140.63 L647.50 140.97 L648.00 141.26 L648.50 141.52 L649.00 141.73 L649.50 141.90 L650.00 142.00 L650.50 142.05 L651.00 142.04 L651.50 141.97 L652.00 141.85 L652.50 141.69 L653.00 141.50 L653.50 141.30 L654.00 141.10 L654.50 140.92 L655.00 140.76 L655.50 140.63 L656.00 140.54 L656.50 140.50 L657.00 140.52 L657.50 140.58 L658.00 140.70 L658.50 140.88 L659.00 141.10 L659.50 141.36 L660.00 141.66 L660.50 142.00 L661.00 142.36 L661.50 142.74 L662.00 143.14 L662.50 143.55 L663.00 143.96 L663.50 144.36 L664.00 144.75 L664.50 145.10 L665.00 145.42 L665.50 145.71 L666.00 145.96 L666.50 146.17 L667.00 146.35 L667.50 146.50 L668.00 146.63 L668.50 146.75 L669.00 146.85 L669.50 146.94 L670.00 147.03 L670.50 147.11 L671.00 147.18 L671.50 147.24 L672.00 147.30 L672.50 147.35 L673.00 147.38 L673.50 147.42 L674.00 147.44 L674.50 147.46 L675.00 147.47 L675.50 147.48 L675.50 147.10 L571.00 147.10 Z" fill="#d62728" fill-opacity="0.25" stroke="none"/>
<path d="M571.00 147.49 L571.50 147.48 L572.00 147.47 L572.50 147.45 L573.00 147.43 L573.50 147.40 L574.00 147.37 L574.50 147.32 L575.00 147.26 L575.50 147.20 L576.00 147.11 L576.50 147.02 L577.00 146.91 L577.50 146.79 L578.00 146.66 L578.50 146.50 L579.00 146.33 L579.50 146.13 L580.00 145.89 L580.50 145.61 L581.00 145.28 L581.50 144.88 L582.00 144.43 L582.50 143.91 L583.00 143.31 L583.50 142.65 L584.00 141.91 L584.50 141.10 L585.00 140.19 L585.50 139.16 L586.00 137.98 L586.50 136.62 L587.00 135.04 L587.50 133.19 L588.00 131.08 L588.50 128.68 L589.00 126.01 L589.50 123.10 L590.00 120.00 L590.50 116.74 L591.00 113.36 L591.50 109.88 L592.00 106.29 L592.50 102.55 L593.00 98.64 L593.50 94.50 L594.00 90.13 L594.50 85.51 L595.00 80.69 L595.50 75.71 L596.00 70.66 L596.50 65.63 L597.00 60.69 L597.50 55.89 L598.00 51.28 L598.50 46.87 L599.00 42.67 L599.50 38.71 L600.00 35.00 L600.50 31.59 L601.00 28.53 L601.50 25.86 L602.00 23.61 L602.50 21.78 L603.00 20.35 L603.50 19.26 L604.00 18.47 L604.50 17.91 L605.00 17.53 L605.50 17.29 L606.00 17.17 L606.50 17.16 L607.00 17.25 L607.50 17.45 L608.00 17.74 L608.50 18.12 L609.00 18.60 L609.50 19.16 L610.00 19.82 L610.50 20.58 L611.00 21.44 L611.50 22.40 L612.00 23.46 L612.50 24.63 L613.00 25.91 L613.50 27.31 L614.00 28.86 L614.50 30.56 L615.00 32.43 L615.50 34.47 L616.00 36.67 L616.50 38.99 L617.00 41.41 L617.50 43.87 L618.00 46.36 L618.50 48.87 L619.00 51.40 L619.50 53.98 L620.00 56.63 L620.50 59.34 L621.00 62.11 L621.50 64.92 L622.00 67.71 L622.50 70.47 L623.00 73.18 L623.50 75.82 L624.00 78.44 L624.50 81.07 L625.00 83.75 L625.50 86.52 L626.00 89.38 L626.50 92.33 L627.00 95.30 L627.50 98.26 L628.00 101.13 L628.50 103.87 L629.00 106.47 L629.50 108.92 L630.00 111.23 L630.50 113.45 L631.00 115.59 L631.50 117.68 L632.00 119.70 L632.50 121.65 L633.00 123.48 L633.50 125.16 L634.00 126.67 L634.50 127.99 L635.00 129.12 L635.50 130.08 L636.00 130.89 L636.50 131.58 L637.00 132.20 L637.50 132.75 L638.00 133.26 L638.50 133.73 L639.00 134.16 L639.50 134.56 L640.00 134.92 L640.50 135.26 L641.00 135.59 L641.50 135.92 L642.00 136.28 L642.50 136.66 L643.00 137.09 L643.50 137.54 L644.00 138.01 L644.50 138.49 L645.00 138.97 L645.50 139.43 L646.00 139.86 L646.50 140.27 L647.00 140.63 L647.50 140.97 L648.00 141.26 L648.50 141.52 L649.00 141.73 L649.50 141.90 L650.00 142.00 L650.50 142.05 L651.00 142.04 L651.50 141.97 L652.00 141.85 L652.50 141.69 L653.00 141.50 L653.50 141.30 L654.00 141.10 L654.50 140.92 L655.00 140.76 L655.50 140.63 L656.00 140.54 L656.50 140.50 L657.00 140.52 L657.50 140.58 L658.00 140.70 L658.50 140.88 L659.00 141.10 L659.50 141.36 L660.00 141.66 L660.50 142.00 L661.00 142.36 L661.50 142.74 L662.00 143.14 L662.50 143.55 L663.00 143.96 L663.50 144.36 L664.00 144.75 L664.50 145.10 L665.00 145.42 L665.50 145.71 L666.00 145.96 L666.50 146.17 L667.00 146.35 L667.50 146.50 L668.00 146.63 L668.50 146.75 L669.00 146.85 L669.50 146.94 L670.00 147.03 L670.50 147.11 L671.00 147.18 L671.50 147.24 L672.00 147.30 L672.50 147.35 L673.00 147.38 L673.50 147.42 L674.00 147.44 L674.50 147.46 L675.00 147.47 L675.50 147.48 L675.50 147.10 L571.00 147.10 Z" fill="none" stroke="#d62728" stroke-width="0.6" stroke-linejoin="round"/>
<line x1="640.20" y1="10.70" x2="640.20" y2="147.50" stroke="#999" stroke-width="0.64" stroke-dasharray="2.37 1.03"/>
<path d="M604.30 141.10 L608.90 141.10 L606.60 145.70 Z" fill="#d62728" stroke="#d62728" stroke-width="0.5" stroke-linejoin="miter"/>
</g>
<line x1="562.50" y1="147.50" x2="562.50" y2="149.10" stroke="#333" stroke-width="0.55"/>
<text transform="translate(562.21 156.50) rotate(0.03)" class="t" font-size="8.2" text-anchor="middle">0</text>
<line x1="617.50" y1="147.50" x2="617.50" y2="149.10" stroke="#333" stroke-width="0.55"/>
<text transform="translate(617.71 156.50) rotate(0.03)" class="t" font-size="8.2" text-anchor="middle">100</text>
<line x1="673.50" y1="147.50" x2="673.50" y2="149.10" stroke="#333" stroke-width="0.55"/>
<text transform="translate(673.70 156.50) rotate(0.03)" class="t" font-size="8.2" text-anchor="middle">200</text>
<line x1="548.90" y1="147.50" x2="550.50" y2="147.50" stroke="#333" stroke-width="0.55"/>
<text transform="translate(547.40 150.10) rotate(0.03)" class="t" font-size="8.2" text-anchor="end">0.00</text>
<line x1="548.90" y1="128.50" x2="550.50" y2="128.50" stroke="#333" stroke-width="0.55"/>
<text transform="translate(547.40 131.67) rotate(0.03)" class="t" font-size="8.2" text-anchor="end">0.25</text>
<line x1="548.90" y1="110.50" x2="550.50" y2="110.50" stroke="#333" stroke-width="0.55"/>
<text transform="translate(547.40 113.24) rotate(0.03)" class="t" font-size="8.2" text-anchor="end">0.50</text>
<line x1="548.90" y1="91.50" x2="550.50" y2="91.50" stroke="#333" stroke-width="0.55"/>
<text transform="translate(547.40 94.81) rotate(0.03)" class="t" font-size="8.2" text-anchor="end">0.75</text>
<line x1="548.90" y1="73.50" x2="550.50" y2="73.50" stroke="#333" stroke-width="0.55"/>
<text transform="translate(547.40 76.38) rotate(0.03)" class="t" font-size="8.2" text-anchor="end">1.00</text>
<line x1="548.90" y1="54.50" x2="550.50" y2="54.50" stroke="#333" stroke-width="0.55"/>
<text transform="translate(547.40 57.95) rotate(0.03)" class="t" font-size="8.2" text-anchor="end">1.25</text>
<line x1="548.90" y1="36.50" x2="550.50" y2="36.50" stroke="#333" stroke-width="0.55"/>
<text transform="translate(547.40 39.52) rotate(0.03)" class="t" font-size="8.2" text-anchor="end">1.50</text>
<line x1="548.90" y1="18.50" x2="550.50" y2="18.50" stroke="#333" stroke-width="0.55"/>
<text transform="translate(547.40 21.09) rotate(0.03)" class="t" font-size="8.2" text-anchor="end">1.75</text>
<rect x="550.50" y="10.70" width="134.00" height="136.80" fill="none" stroke="#333" stroke-width="0.55"/>
<text transform="translate(550.50 9.40) rotate(0.03)" font-size="10.5">×10<tspan font-size="7.35" dy="-3.88">−2</tspan></text>
<text transform="translate(525.20 79.10) rotate(-90.03)" font-size="10.6" text-anchor="middle">Density</text>
<text transform="translate(616.70 168.80) rotate(0.03)" font-size="10.6" text-anchor="middle">TPSA(Å<tspan font-size="7.42" dy="-3.60">2</tspan><tspan dy="3.60">) <tspan dx="-1.4">↓</tspan></tspan></text>
</g>
<g id="ax4">
<g clip-path="url(#c4)">
<path d="M54.63 317.49 L55.13 317.48 L55.63 317.46 L56.13 317.43 L56.63 317.38 L57.13 317.31 L57.63 317.21 L58.13 317.05 L58.63 316.83 L59.13 316.54 L59.63 316.15 L60.13 315.65 L60.63 315.03 L61.13 314.27 L61.63 313.38 L62.13 312.36 L62.63 311.23 L63.13 309.99 L63.63 308.67 L64.13 307.28 L64.63 305.79 L65.13 304.22 L65.63 302.53 L66.13 300.70 L66.63 298.75 L67.13 296.68 L67.63 294.54 L68.13 292.39 L68.63 290.25 L69.13 288.15 L69.63 286.02 L70.13 283.77 L70.63 281.24 L71.13 278.28 L71.63 274.77 L72.13 270.66 L72.63 265.98 L73.13 260.88 L73.63 255.53 L74.13 250.12 L74.63 244.79 L75.13 239.62 L75.63 234.60 L76.13 229.68 L76.63 224.80 L77.13 219.94 L77.63 215.15 L78.13 210.51 L78.63 206.16 L79.13 202.21 L79.63 198.76 L80.13 195.85 L80.63 193.46 L81.13 191.55 L81.63 190.08 L82.13 188.98 L82.63 188.20 L83.13 187.69 L83.63 187.44 L84.13 187.45 L84.63 187.75 L85.13 188.42 L85.63 189.55 L86.13 191.21 L86.63 193.42 L87.13 196.18 L87.63 199.41 L88.13 203.00 L88.63 206.84 L89.13 210.87 L89.63 215.03 L90.13 219.31 L90.63 223.68 L91.13 228.09 L91.63 232.48 L92.13 236.78 L92.63 240.91 L93.13 244.85 L93.63 248.62 L94.13 252.26 L94.63 255.83 L95.13 259.36 L95.63 262.84 L96.13 266.24 L96.63 269.47 L97.13 272.48 L97.63 275.23 L98.13 277.74 L98.63 280.07 L99.13 282.27 L99.63 284.42 L100.13 286.55 L100.63 288.66 L101.13 290.72 L101.63 292.69 L102.13 294.55 L102.63 296.31 L103.13 297.97 L103.63 299.58 L104.13 301.16 L104.63 302.72 L105.13 304.25 L105.63 305.72 L106.13 307.07 L106.63 308.27 L107.13 309.29 L107.63 310.11 L108.13 310.76 L108.63 311.25 L109.13 311.62 L109.63 311.90 L110.13 312.10 L110.63 312.25 L111.13 312.36 L111.63 312.43 L112.13 312.48 L112.63 312.52 L113.13 312.59 L113.63 312.68 L114.13 312.82 L114.63 313.01 L115.13 313.24 L115.63 313.51 L116.13 313.80 L116.63 314.10 L117.13 314.40 L117.63 314.71 L118.13 315.01 L118.63 315.32 L119.13 315.62 L119.63 315.92 L120.13 316.20 L120.63 316.46 L121.13 316.69 L121.63 316.90 L122.13 317.06 L122.63 317.19 L123.13 317.29 L123.63 317.37 L124.13 317.42 L124.63 317.45 L125.13 317.47 L125.63 317.48 L125.63 317.30 L54.63 317.30 Z" fill="#9467bd" fill-opacity="0.25" stroke="none"/>
<path d="M54.63 317.49 L55.13 317.48 L55.63 317.46 L56.13 317.43 L56.63 317.38 L57.13 317.31 L57.63 317.21 L58.13 317.05 L58.63 316.83 L59.13 316.54 L59.63 316.15 L60.13 315.65 L60.63 315.03 L61.13 314.27 L61.63 313.38 L62.13 312.36 L62.63 311.23 L63.13 309.99 L63.63 308.67 L64.13 307.28 L64.63 305.79 L65.13 304.22 L65.63 302.53 L66.13 300.70 L66.63 298.75 L67.13 296.68 L67.63 294.54 L68.13 292.39 L68.63 290.25 L69.13 288.15 L69.63 286.02 L70.13 283.77 L70.63 281.24 L71.13 278.28 L71.63 274.77 L72.13 270.66 L72.63 265.98 L73.13 260.88 L73.63 255.53 L74.13 250.12 L74.63 244.79 L75.13 239.62 L75.63 234.60 L76.13 229.68 L76.63 224.80 L77.13 219.94 L77.63 215.15 L78.13 210.51 L78.63 206.16 L79.13 202.21 L79.63 198.76 L80.13 195.85 L80.63 193.46 L81.13 191.55 L81.63 190.08 L82.13 188.98 L82.63 188.20 L83.13 187.69 L83.63 187.44 L84.13 187.45 L84.63 187.75 L85.13 188.42 L85.63 189.55 L86.13 191.21 L86.63 193.42 L87.13 196.18 L87.63 199.41 L88.13 203.00 L88.63 206.84 L89.13 210.87 L89.63 215.03 L90.13 219.31 L90.63 223.68 L91.13 228.09 L91.63 232.48 L92.13 236.78 L92.63 240.91 L93.13 244.85 L93.63 248.62 L94.13 252.26 L94.63 255.83 L95.13 259.36 L95.63 262.84 L96.13 266.24 L96.63 269.47 L97.13 272.48 L97.63 275.23 L98.13 277.74 L98.63 280.07 L99.13 282.27 L99.63 284.42 L100.13 286.55 L100.63 288.66 L101.13 290.72 L101.63 292.69 L102.13 294.55 L102.63 296.31 L103.13 297.97 L103.63 299.58 L104.13 301.16 L104.63 302.72 L105.13 304.25 L105.63 305.72 L106.13 307.07 L106.63 308.27 L107.13 309.29 L107.63 310.11 L108.13 310.76 L108.63 311.25 L109.13 311.62 L109.63 311.90 L110.13 312.10 L110.63 312.25 L111.13 312.36 L111.63 312.43 L112.13 312.48 L112.63 312.52 L113.13 312.59 L113.63 312.68 L114.13 312.82 L114.63 313.01 L115.13 313.24 L115.63 313.51 L116.13 313.80 L116.63 314.10 L117.13 314.40 L117.63 314.71 L118.13 315.01 L118.63 315.32 L119.13 315.62 L119.63 315.92 L120.13 316.20 L120.63 316.46 L121.13 316.69 L121.63 316.90 L122.13 317.06 L122.63 317.19 L123.13 317.29 L123.63 317.37 L124.13 317.42 L124.63 317.45 L125.13 317.47 L125.63 317.48 L125.63 317.30 L54.63 317.30 Z" fill="none" stroke="#9467bd" stroke-width="0.6" stroke-linejoin="round"/>
<line x1="105.00" y1="181.50" x2="105.00" y2="317.50" stroke="#999" stroke-width="0.64" stroke-dasharray="2.37 1.03"/>
<path d="M64.25 311.20 L68.85 311.20 L66.55 315.80 Z" fill="#9467bd" stroke="#9467bd" stroke-width="0.5" stroke-linejoin="miter"/>
</g>
<line x1="47.50" y1="317.50" x2="47.50" y2="319.10" stroke="#333" stroke-width="0.55"/>
<text transform="translate(47.46 326.70) rotate(0.03)" class="t" font-size="8.2" text-anchor="middle">0</text>
<line x1="95.50" y1="317.50" x2="95.50" y2="319.10" stroke="#333" stroke-width="0.55"/>
<text transform="translate(95.16 326.70) rotate(0.03)" class="t" font-size="8.2" text-anchor="middle">5</text>
<line x1="143.50" y1="317.50" x2="143.50" y2="319.10" stroke="#333" stroke-width="0.55"/>
<text transform="translate(143.38 326.70) rotate(0.03)" class="t" font-size="8.2" text-anchor="middle">10</text>
<line x1="26.90" y1="317.50" x2="28.50" y2="317.50" stroke="#333" stroke-width="0.55"/>
<text transform="translate(25.40 320.30) rotate(0.03)" class="t" font-size="8.2" text-anchor="end">0</text>
<line x1="26.90" y1="286.50" x2="28.50" y2="286.50" stroke="#333" stroke-width="0.55"/>
<text transform="translate(25.40 289.95) rotate(0.03)" class="t" font-size="8.2" text-anchor="end">1</text>
<line x1="26.90" y1="256.50" x2="28.50" y2="256.50" stroke="#333" stroke-width="0.55"/>
<text transform="translate(25.40 259.60) rotate(0.03)" class="t" font-size="8.2" text-anchor="end">2</text>
<line x1="26.90" y1="226.50" x2="28.50" y2="226.50" stroke="#333" stroke-width="0.55"/>
<text transform="translate(25.40 229.25) rotate(0.03)" class="t" font-size="8.2" text-anchor="end">3</text>
<line x1="26.90" y1="195.50" x2="28.50" y2="195.50" stroke="#333" stroke-width="0.55"/>
<text transform="translate(25.40 198.90) rotate(0.03)" class="t" font-size="8.2" text-anchor="end">4</text>
<rect x="28.50" y="181.50" width="134.00" height="136.00" fill="none" stroke="#333" stroke-width="0.55"/>
<text transform="translate(28.50 180.20) rotate(0.03)" font-size="10.5">×10<tspan font-size="7.35" dy="-3.88">−1</tspan></text>
<text transform="translate(16.50 249.50) rotate(-90.03)" font-size="10.6" text-anchor="middle">Density</text>
<text transform="translate(94.70 337.90) rotate(0.03)" font-size="10.6" text-anchor="middle">SA score <tspan dx="-1.4">↓</tspan></text>
</g>
<g id="ax5">
<g clip-path="url(#c5)">
<path d="M219.50 317.48 L220.00 317.47 L220.50 317.44 L221.00 317.40 L221.50 317.33 L222.00 317.22 L222.50 317.08 L223.00 316.90 L223.50 316.67 L224.00 316.38 L224.50 316.03 L225.00 315.61 L225.50 315.09 L226.00 314.45 L226.50 313.67 L227.00 312.72 L227.50 311.58 L228.00 310.21 L228.50 308.58 L229.00 306.64 L229.50 304.37 L230.00 301.75 L230.50 298.85 L231.00 295.73 L231.50 292.47 L232.00 289.08 L232.50 285.45 L233.00 281.37 L233.50 276.58 L234.00 270.88 L234.50 264.27 L235.00 256.98 L235.50 249.41 L236.00 241.99 L236.50 235.01 L237.00 228.58 L237.50 222.61 L238.00 216.97 L238.50 211.58 L239.00 206.53 L239.50 201.99 L240.00 198.12 L240.50 194.97 L241.00 192.49 L241.50 190.54 L242.00 189.04 L242.50 188.01 L243.00 187.50 L243.50 187.61 L244.00 188.38 L244.50 189.84 L245.00 191.99 L245.50 194.79 L246.00 198.19 L246.50 202.06 L247.00 206.20 L247.50 210.42 L248.00 214.57 L248.50 218.56 L249.00 222.36 L249.50 225.92 L250.00 229.17 L250.50 232.03 L251.00 234.43 L251.50 236.40 L252.00 238.05 L252.50 239.49 L253.00 240.84 L253.50 242.16 L254.00 243.46 L254.50 244.73 L255.00 245.98 L255.50 247.23 L256.00 248.52 L256.50 249.90 L257.00 251.37 L257.50 252.93 L258.00 254.55 L258.50 256.21 L259.00 257.92 L259.50 259.73 L260.00 261.71 L260.50 263.90 L261.00 266.26 L261.50 268.68 L262.00 271.06 L262.50 273.29 L263.00 275.36 L263.50 277.32 L264.00 279.26 L264.50 281.23 L265.00 283.22 L265.50 285.19 L266.00 287.11 L266.50 288.93 L267.00 290.65 L267.50 292.28 L268.00 293.85 L268.50 295.36 L269.00 296.78 L269.50 298.12 L270.00 299.36 L270.50 300.52 L271.00 301.58 L271.50 302.57 L272.00 303.48 L272.50 304.32 L273.00 305.10 L273.50 305.83 L274.00 306.52 L274.50 307.19 L275.00 307.84 L275.50 308.48 L276.00 309.09 L276.50 309.68 L277.00 310.22 L277.50 310.70 L278.00 311.13 L278.50 311.52 L279.00 311.86 L279.50 312.18 L280.00 312.47 L280.50 312.73 L281.00 312.95 L281.50 313.11 L282.00 313.22 L282.50 313.29 L283.00 313.34 L283.50 313.37 L284.00 313.40 L284.50 313.41 L285.00 313.39 L285.50 313.36 L286.00 313.31 L286.50 313.28 L287.00 313.27 L287.50 313.30 L288.00 313.36 L288.50 313.46 L289.00 313.58 L289.50 313.72 L290.00 313.90 L290.50 314.09 L291.00 314.31 L291.50 314.55 L292.00 314.79 L292.50 315.03 L293.00 315.27 L293.50 315.49 L294.00 315.70 L294.50 315.89 L295.00 316.06 L295.50 316.21 L296.00 316.33 L296.50 316.44 L297.00 316.53 L297.50 316.60 L298.00 316.65 L298.50 316.69 L299.00 316.71 L299.50 316.72 L300.00 316.72 L300.50 316.72 L301.00 316.72 L301.50 316.72 L302.00 316.72 L302.50 316.71 L303.00 316.70 L303.50 316.69 L304.00 316.67 L304.50 316.66 L305.00 316.64 L305.50 316.63 L306.00 316.61 L306.50 316.59 L307.00 316.56 L307.50 316.53 L308.00 316.50 L308.50 316.46 L309.00 316.41 L309.50 316.37 L310.00 316.32 L310.50 316.28 L311.00 316.24 L311.50 316.20 L312.00 316.15 L312.50 316.11 L313.00 316.07 L313.50 316.03 L314.00 316.01 L314.50 315.99 L315.00 315.99 L315.50 315.99 L316.00 315.99 L316.50 315.99 L317.00 316.01 L317.50 316.03 L318.00 316.05 L318.50 316.08 L319.00 316.12 L319.50 316.16 L320.00 316.21 L320.50 316.27 L321.00 316.33 L321.50 316.40 L322.00 316.48 L322.50 316.57 L323.00 316.65 L323.50 316.73 L324.00 316.82 L324.50 316.90 L325.00 317.00 L325.50 317.09 L326.00 317.18 L326.50 317.26 L327.00 317.33 L327.50 317.38 L328.00 317.43 L328.50 317.46 L329.00 317.47 L329.50 317.49 L329.50 317.30 L219.50 317.30 Z" fill="#8c564b" fill-opacity="0.25" stroke="none"/>
<path d="M219.50 317.48 L220.00 317.47 L220.50 317.44 L221.00 317.40 L221.50 317.33 L222.00 317.22 L222.50 317.08 L223.00 316.90 L223.50 316.67 L224.00 316.38 L224.50 316.03 L225.00 315.61 L225.50 315.09 L226.00 314.45 L226.50 313.67 L227.00 312.72 L227.50 311.58 L228.00 310.21 L228.50 308.58 L229.00 306.64 L229.50 304.37 L230.00 301.75 L230.50 298.85 L231.00 295.73 L231.50 292.47 L232.00 289.08 L232.50 285.45 L233.00 281.37 L233.50 276.58 L234.00 270.88 L234.50 264.27 L235.00 256.98 L235.50 249.41 L236.00 241.99 L236.50 235.01 L237.00 228.58 L237.50 222.61 L238.00 216.97 L238.50 211.58 L239.00 206.53 L239.50 201.99 L240.00 198.12 L240.50 194.97 L241.00 192.49 L241.50 190.54 L242.00 189.04 L242.50 188.01 L243.00 187.50 L243.50 187.61 L244.00 188.38 L244.50 189.84 L245.00 191.99 L245.50 194.79 L246.00 198.19 L246.50 202.06 L247.00 206.20 L247.50 210.42 L248.00 214.57 L248.50 218.56 L249.00 222.36 L249.50 225.92 L250.00 229.17 L250.50 232.03 L251.00 234.43 L251.50 236.40 L252.00 238.05 L252.50 239.49 L253.00 240.84 L253.50 242.16 L254.00 243.46 L254.50 244.73 L255.00 245.98 L255.50 247.23 L256.00 248.52 L256.50 249.90 L257.00 251.37 L257.50 252.93 L258.00 254.55 L258.50 256.21 L259.00 257.92 L259.50 259.73 L260.00 261.71 L260.50 263.90 L261.00 266.26 L261.50 268.68 L262.00 271.06 L262.50 273.29 L263.00 275.36 L263.50 277.32 L264.00 279.26 L264.50 281.23 L265.00 283.22 L265.50 285.19 L266.00 287.11 L266.50 288.93 L267.00 290.65 L267.50 292.28 L268.00 293.85 L268.50 295.36 L269.00 296.78 L269.50 298.12 L270.00 299.36 L270.50 300.52 L271.00 301.58 L271.50 302.57 L272.00 303.48 L272.50 304.32 L273.00 305.10 L273.50 305.83 L274.00 306.52 L274.50 307.19 L275.00 307.84 L275.50 308.48 L276.00 309.09 L276.50 309.68 L277.00 310.22 L277.50 310.70 L278.00 311.13 L278.50 311.52 L279.00 311.86 L279.50 312.18 L280.00 312.47 L280.50 312.73 L281.00 312.95 L281.50 313.11 L282.00 313.22 L282.50 313.29 L283.00 313.34 L283.50 313.37 L284.00 313.40 L284.50 313.41 L285.00 313.39 L285.50 313.36 L286.00 313.31 L286.50 313.28 L287.00 313.27 L287.50 313.30 L288.00 313.36 L288.50 313.46 L289.00 313.58 L289.50 313.72 L290.00 313.90 L290.50 314.09 L291.00 314.31 L291.50 314.55 L292.00 314.79 L292.50 315.03 L293.00 315.27 L293.50 315.49 L294.00 315.70 L294.50 315.89 L295.00 316.06 L295.50 316.21 L296.00 316.33 L296.50 316.44 L297.00 316.53 L297.50 316.60 L298.00 316.65 L298.50 316.69 L299.00 316.71 L299.50 316.72 L300.00 316.72 L300.50 316.72 L301.00 316.72 L301.50 316.72 L302.00 316.72 L302.50 316.71 L303.00 316.70 L303.50 316.69 L304.00 316.67 L304.50 316.66 L305.00 316.64 L305.50 316.63 L306.00 316.61 L306.50 316.59 L307.00 316.56 L307.50 316.53 L308.00 316.50 L308.50 316.46 L309.00 316.41 L309.50 316.37 L310.00 316.32 L310.50 316.28 L311.00 316.24 L311.50 316.20 L312.00 316.15 L312.50 316.11 L313.00 316.07 L313.50 316.03 L314.00 316.01 L314.50 315.99 L315.00 315.99 L315.50 315.99 L316.00 315.99 L316.50 315.99 L317.00 316.01 L317.50 316.03 L318.00 316.05 L318.50 316.08 L319.00 316.12 L319.50 316.16 L320.00 316.21 L320.50 316.27 L321.00 316.33 L321.50 316.40 L322.00 316.48 L322.50 316.57 L323.00 316.65 L323.50 316.73 L324.00 316.82 L324.50 316.90 L325.00 317.00 L325.50 317.09 L326.00 317.18 L326.50 317.26 L327.00 317.33 L327.50 317.38 L328.00 317.43 L328.50 317.46 L329.00 317.47 L329.50 317.49 L329.50 317.30 L219.50 317.30 Z" fill="none" stroke="#8c564b" stroke-width="0.6" stroke-linejoin="round"/>
<line x1="232.00" y1="181.50" x2="232.00" y2="317.50" stroke="#999" stroke-width="0.64" stroke-dasharray="2.37 1.03"/>
<path d="M257.30 311.20 L261.90 311.20 L259.60 315.80 Z" fill="#8c564b" stroke="#8c564b" stroke-width="0.5" stroke-linejoin="miter"/>
</g>
<line x1="229.50" y1="317.50" x2="229.50" y2="319.10" stroke="#333" stroke-width="0.55"/>
<text transform="translate(229.50 326.70) rotate(0.03)" class="t" font-size="8.2" text-anchor="middle">0</text>
<line x1="269.50" y1="317.50" x2="269.50" y2="319.10" stroke="#333" stroke-width="0.55"/>
<text transform="translate(269.42 326.70) rotate(0.03)" class="t" font-size="8.2" text-anchor="middle">30</text>
<line x1="309.50" y1="317.50" x2="309.50" y2="319.10" stroke="#333" stroke-width="0.55"/>
<text transform="translate(309.60 326.70) rotate(0.03)" class="t" font-size="8.2" text-anchor="middle">60</text>
<line x1="200.90" y1="317.50" x2="202.50" y2="317.50" stroke="#333" stroke-width="0.55"/>
<text transform="translate(199.40 320.30) rotate(0.03)" class="t" font-size="8.2" text-anchor="end">0</text>
<line x1="200.90" y1="294.50" x2="202.50" y2="294.50" stroke="#333" stroke-width="0.55"/>
<text transform="translate(199.40 297.27) rotate(0.03)" class="t" font-size="8.2" text-anchor="end">1</text>
<line x1="200.90" y1="271.50" x2="202.50" y2="271.50" stroke="#333" stroke-width="0.55"/>
<text transform="translate(199.40 274.24) rotate(0.03)" class="t" font-size="8.2" text-anchor="end">2</text>
<line x1="200.90" y1="248.50" x2="202.50" y2="248.50" stroke="#333" stroke-width="0.55"/>
<text transform="translate(199.40 251.21) rotate(0.03)" class="t" font-size="8.2" text-anchor="end">3</text>
<line x1="200.90" y1="225.50" x2="202.50" y2="225.50" stroke="#333" stroke-width="0.55"/>
<text transform="translate(199.40 228.18) rotate(0.03)" class="t" font-size="8.2" text-anchor="end">4</text>
<line x1="200.90" y1="202.50" x2="202.50" y2="202.50" stroke="#333" stroke-width="0.55"/>
<text transform="translate(199.40 205.15) rotate(0.03)" class="t" font-size="8.2" text-anchor="end">5</text>
<rect x="202.50" y="181.50" width="134.00" height="136.00" fill="none" stroke="#333" stroke-width="0.55"/>
<text transform="translate(202.50 180.20) rotate(0.03)" font-size="10.5">×10<tspan font-size="7.35" dy="-3.88">−2</tspan></text>
<text transform="translate(190.50 249.50) rotate(-90.03)" font-size="10.6" text-anchor="middle">Density</text>
<text transform="translate(268.70 339.10) rotate(0.03)" font-size="10.6" text-anchor="middle">MDCK(10<tspan font-size="7.42" dy="-3.60">−6</tspan><tspan dy="3.60"> cm · s</tspan><tspan font-size="7.42" dy="-3.60">−1</tspan><tspan dy="3.60">) <tspan dx="-1.4">↑</tspan></tspan></text>
</g>
<g id="ax6">
<g clip-path="url(#c6)">
<path d="M378.00 317.49 L378.50 317.47 L379.00 317.45 L379.50 317.42 L380.00 317.36 L380.50 317.28 L381.00 317.15 L381.50 316.98 L382.00 316.76 L382.50 316.46 L383.00 316.10 L383.50 315.67 L384.00 315.16 L384.50 314.57 L385.00 313.91 L385.50 313.14 L386.00 312.25 L386.50 311.20 L387.00 309.96 L387.50 308.51 L388.00 306.82 L388.50 304.90 L389.00 302.77 L389.50 300.44 L390.00 297.91 L390.50 295.16 L391.00 292.12 L391.50 288.68 L392.00 284.70 L392.50 280.08 L393.00 274.76 L393.50 268.77 L394.00 262.25 L394.50 255.40 L395.00 248.50 L395.50 241.78 L396.00 235.44 L396.50 229.54 L397.00 224.08 L397.50 219.01 L398.00 214.24 L398.50 209.75 L399.00 205.57 L399.50 201.75 L400.00 198.40 L400.50 195.55 L401.00 193.21 L401.50 191.33 L402.00 189.83 L402.50 188.66 L403.00 187.82 L403.50 187.40 L404.00 187.50 L404.50 188.26 L405.00 189.74 L405.50 191.94 L406.00 194.79 L406.50 198.16 L407.00 201.91 L407.50 205.94 L408.00 210.19 L408.50 214.63 L409.00 219.23 L409.50 223.95 L410.00 228.68 L410.50 233.32 L411.00 237.78 L411.50 241.98 L412.00 245.93 L412.50 249.70 L413.00 253.40 L413.50 257.11 L414.00 260.87 L414.50 264.67 L415.00 268.40 L415.50 271.95 L416.00 275.22 L416.50 278.12 L417.00 280.65 L417.50 282.86 L418.00 284.84 L418.50 286.67 L419.00 288.40 L419.50 290.07 L420.00 291.65 L420.50 293.13 L421.00 294.47 L421.50 295.67 L422.00 296.73 L422.50 297.68 L423.00 298.53 L423.50 299.32 L424.00 300.03 L424.50 300.67 L425.00 301.22 L425.50 301.68 L426.00 302.05 L426.50 302.35 L427.00 302.60 L427.50 302.82 L428.00 303.02 L428.50 303.20 L429.00 303.34 L429.50 303.45 L430.00 303.50 L430.50 303.51 L431.00 303.48 L431.50 303.42 L432.00 303.34 L432.50 303.25 L433.00 303.16 L433.50 303.06 L434.00 302.96 L434.50 302.85 L435.00 302.75 L435.50 302.65 L436.00 302.57 L436.50 302.50 L437.00 302.44 L437.50 302.41 L438.00 302.40 L438.50 302.42 L439.00 302.47 L439.50 302.57 L440.00 302.70 L440.50 302.87 L441.00 303.06 L441.50 303.26 L442.00 303.48 L442.50 303.70 L443.00 303.93 L443.50 304.16 L444.00 304.38 L444.50 304.61 L445.00 304.82 L445.50 305.03 L446.00 305.24 L446.50 305.43 L447.00 305.62 L447.50 305.80 L448.00 305.98 L448.50 306.16 L449.00 306.32 L449.50 306.48 L450.00 306.63 L450.50 306.78 L451.00 306.93 L451.50 307.08 L452.00 307.24 L452.50 307.38 L453.00 307.53 L453.50 307.66 L454.00 307.79 L454.50 307.92 L455.00 308.03 L455.50 308.14 L456.00 308.25 L456.50 308.34 L457.00 308.44 L457.50 308.53 L458.00 308.62 L458.50 308.70 L459.00 308.78 L459.50 308.85 L460.00 308.92 L460.50 308.99 L461.00 309.06 L461.50 309.12 L462.00 309.18 L462.50 309.24 L463.00 309.30 L463.50 309.36 L464.00 309.41 L464.50 309.47 L465.00 309.53 L465.50 309.59 L466.00 309.65 L466.50 309.71 L467.00 309.77 L467.50 309.83 L468.00 309.90 L468.50 309.98 L469.00 310.06 L469.50 310.14 L470.00 310.22 L470.50 310.31 L471.00 310.39 L471.50 310.48 L472.00 310.58 L472.50 310.67 L473.00 310.77 L473.50 310.88 L474.00 310.98 L474.50 311.10 L475.00 311.22 L475.50 311.34 L476.00 311.48 L476.50 311.62 L477.00 311.76 L477.50 311.92 L478.00 312.09 L478.50 312.27 L479.00 312.47 L479.50 312.67 L480.00 312.88 L480.50 313.09 L481.00 313.30 L481.50 313.50 L482.00 313.71 L482.50 313.91 L483.00 314.11 L483.50 314.31 L484.00 314.51 L484.50 314.70 L485.00 314.90 L485.50 315.09 L486.00 315.27 L486.50 315.45 L487.00 315.63 L487.50 315.80 L488.00 315.97 L488.50 316.14 L489.00 316.30 L489.50 316.46 L490.00 316.61 L490.50 316.74 L491.00 316.86 L491.50 316.96 L492.00 317.05 L492.50 317.13 L493.00 317.20 L493.50 317.26 L494.00 317.31 L494.50 317.35 L495.00 317.39 L495.50 317.42 L496.00 317.44 L496.50 317.46 L497.00 317.47 L497.50 317.48 L497.50 317.30 L378.00 317.30 Z" fill="#e377c2" fill-opacity="0.25" stroke="none"/>
<path d="M378.00 317.49 L378.50 317.47 L379.00 317.45 L379.50 317.42 L380.00 317.36 L380.50 317.28 L381.00 317.15 L381.50 316.98 L382.00 316.76 L382.50 316.46 L383.00 316.10 L383.50 315.67 L384.00 315.16 L384.50 314.57 L385.00 313.91 L385.50 313.14 L386.00 312.25 L386.50 311.20 L387.00 309.96 L387.50 308.51 L388.00 306.82 L388.50 304.90 L389.00 302.77 L389.50 300.44 L390.00 297.91 L390.50 295.16 L391.00 292.12 L391.50 288.68 L392.00 284.70 L392.50 280.08 L393.00 274.76 L393.50 268.77 L394.00 262.25 L394.50 255.40 L395.00 248.50 L395.50 241.78 L396.00 235.44 L396.50 229.54 L397.00 224.08 L397.50 219.01 L398.00 214.24 L398.50 209.75 L399.00 205.57 L399.50 201.75 L400.00 198.40 L400.50 195.55 L401.00 193.21 L401.50 191.33 L402.00 189.83 L402.50 188.66 L403.00 187.82 L403.50 187.40 L404.00 187.50 L404.50 188.26 L405.00 189.74 L405.50 191.94 L406.00 194.79 L406.50 198.16 L407.00 201.91 L407.50 205.94 L408.00 210.19 L408.50 214.63 L409.00 219.23 L409.50 223.95 L410.00 228.68 L410.50 233.32 L411.00 237.78 L411.50 241.98 L412.00 245.93 L412.50 249.70 L413.00 253.40 L413.50 257.11 L414.00 260.87 L414.50 264.67 L415.00 268.40 L415.50 271.95 L416.00 275.22 L416.50 278.12 L417.00 280.65 L417.50 282.86 L418.00 284.84 L418.50 286.67 L419.00 288.40 L419.50 290.07 L420.00 291.65 L420.50 293.13 L421.00 294.47 L421.50 295.67 L422.00 296.73 L422.50 297.68 L423.00 298.53 L423.50 299.32 L424.00 300.03 L424.50 300.67 L425.00 301.22 L425.50 301.68 L426.00 302.05 L426.50 302.35 L427.00 302.60 L427.50 302.82 L428.00 303.02 L428.50 303.20 L429.00 303.34 L429.50 303.45 L430.00 303.50 L430.50 303.51 L431.00 303.48 L431.50 303.42 L432.00 303.34 L432.50 303.25 L433.00 303.16 L433.50 303.06 L434.00 302.96 L434.50 302.85 L435.00 302.75 L435.50 302.65 L436.00 302.57 L436.50 302.50 L437.00 302.44 L437.50 302.41 L438.00 302.40 L438.50 302.42 L439.00 302.47 L439.50 302.57 L440.00 302.70 L440.50 302.87 L441.00 303.06 L441.50 303.26 L442.00 303.48 L442.50 303.70 L443.00 303.93 L443.50 304.16 L444.00 304.38 L444.50 304.61 L445.00 304.82 L445.50 305.03 L446.00 305.24 L446.50 305.43 L447.00 305.62 L447.50 305.80 L448.00 305.98 L448.50 306.16 L449.00 306.32 L449.50 306.48 L450.00 306.63 L450.50 306.78 L451.00 306.93 L451.50 307.08 L452.00 307.24 L452.50 307.38 L453.00 307.53 L453.50 307.66 L454.00 307.79 L454.50 307.92 L455.00 308.03 L455.50 308.14 L456.00 308.25 L456.50 308.34 L457.00 308.44 L457.50 308.53 L458.00 308.62 L458.50 308.70 L459.00 308.78 L459.50 308.85 L460.00 308.92 L460.50 308.99 L461.00 309.06 L461.50 309.12 L462.00 309.18 L462.50 309.24 L463.00 309.30 L463.50 309.36 L464.00 309.41 L464.50 309.47 L465.00 309.53 L465.50 309.59 L466.00 309.65 L466.50 309.71 L467.00 309.77 L467.50 309.83 L468.00 309.90 L468.50 309.98 L469.00 310.06 L469.50 310.14 L470.00 310.22 L470.50 310.31 L471.00 310.39 L471.50 310.48 L472.00 310.58 L472.50 310.67 L473.00 310.77 L473.50 310.88 L474.00 310.98 L474.50 311.10 L475.00 311.22 L475.50 311.34 L476.00 311.48 L476.50 311.62 L477.00 311.76 L477.50 311.92 L478.00 312.09 L478.50 312.27 L479.00 312.47 L479.50 312.67 L480.00 312.88 L480.50 313.09 L481.00 313.30 L481.50 313.50 L482.00 313.71 L482.50 313.91 L483.00 314.11 L483.50 314.31 L484.00 314.51 L484.50 314.70 L485.00 314.90 L485.50 315.09 L486.00 315.27 L486.50 315.45 L487.00 315.63 L487.50 315.80 L488.00 315.97 L488.50 316.14 L489.00 316.30 L489.50 316.46 L490.00 316.61 L490.50 316.74 L491.00 316.86 L491.50 316.96 L492.00 317.05 L492.50 317.13 L493.00 317.20 L493.50 317.26 L494.00 317.31 L494.50 317.35 L495.00 317.39 L495.50 317.42 L496.00 317.44 L496.50 317.46 L497.00 317.47 L497.50 317.48 L497.50 317.30 L378.00 317.30 Z" fill="none" stroke="#e377c2" stroke-width="0.6" stroke-linejoin="round"/>
<line x1="460.50" y1="181.50" x2="460.50" y2="317.50" stroke="#999" stroke-width="0.64" stroke-dasharray="2.37 1.03"/>
<path d="M408.10 311.20 L412.70 311.20 L410.40 315.80 Z" fill="#e377c2" stroke="#e377c2" stroke-width="0.5" stroke-linejoin="miter"/>
</g>
<line x1="401.50" y1="317.50" x2="401.50" y2="319.10" stroke="#333" stroke-width="0.55"/>
<text transform="translate(401.50 326.70) rotate(0.03)" class="t" font-size="8.2" text-anchor="middle">0.0</text>
<line x1="443.50" y1="317.50" x2="443.50" y2="319.10" stroke="#333" stroke-width="0.55"/>
<text transform="translate(443.43 326.70) rotate(0.03)" class="t" font-size="8.2" text-anchor="middle">0.5</text>
<line x1="485.50" y1="317.50" x2="485.50" y2="319.10" stroke="#333" stroke-width="0.55"/>
<text transform="translate(485.37 326.70) rotate(0.03)" class="t" font-size="8.2" text-anchor="middle">1.0</text>
<line x1="374.90" y1="317.50" x2="376.50" y2="317.50" stroke="#333" stroke-width="0.55"/>
<text transform="translate(373.40 320.30) rotate(0.03)" class="t" font-size="8.2" text-anchor="end">0.0</text>
<line x1="374.90" y1="298.50" x2="376.50" y2="298.50" stroke="#333" stroke-width="0.55"/>
<text transform="translate(373.40 301.35) rotate(0.03)" class="t" font-size="8.2" text-anchor="end">0.5</text>
<line x1="374.90" y1="279.50" x2="376.50" y2="279.50" stroke="#333" stroke-width="0.55"/>
<text transform="translate(373.40 282.40) rotate(0.03)" class="t" font-size="8.2" text-anchor="end">1.0</text>
<line x1="374.90" y1="260.50" x2="376.50" y2="260.50" stroke="#333" stroke-width="0.55"/>
<text transform="translate(373.40 263.45) rotate(0.03)" class="t" font-size="8.2" text-anchor="end">1.5</text>
<line x1="374.90" y1="241.50" x2="376.50" y2="241.50" stroke="#333" stroke-width="0.55"/>
<text transform="translate(373.40 244.50) rotate(0.03)" class="t" font-size="8.2" text-anchor="end">2.0</text>
<line x1="374.90" y1="222.50" x2="376.50" y2="222.50" stroke="#333" stroke-width="0.55"/>
<text transform="translate(373.40 225.55) rotate(0.03)" class="t" font-size="8.2" text-anchor="end">2.5</text>
<line x1="374.90" y1="203.50" x2="376.50" y2="203.50" stroke="#333" stroke-width="0.55"/>
<text transform="translate(373.40 206.60) rotate(0.03)" class="t" font-size="8.2" text-anchor="end">3.0</text>
<line x1="374.90" y1="184.50" x2="376.50" y2="184.50" stroke="#333" stroke-width="0.55"/>
<text transform="translate(373.40 187.65) rotate(0.03)" class="t" font-size="8.2" text-anchor="end">3.5</text>
<rect x="376.50" y="181.50" width="134.00" height="136.00" fill="none" stroke="#333" stroke-width="0.55"/>
<text transform="translate(356.60 249.50) rotate(-90.03)" font-size="10.6" text-anchor="middle">Density</text>
<text transform="translate(442.70 338.20) rotate(0.03)" font-size="10.6" text-anchor="middle">F(20%) <tspan dx="-1.4">↓</tspan></text>
</g>
<g id="ax7">
<g clip-path="url(#c7)">
<path d="M551.02 316.78 L551.52 316.58 L552.02 316.35 L552.52 316.08 L553.02 315.78 L553.52 315.44 L554.02 315.05 L554.52 314.61 L555.02 314.11 L555.52 313.54 L556.02 312.88 L556.52 312.12 L557.02 311.27 L557.52 310.31 L558.02 309.23 L558.52 308.03 L559.02 306.69 L559.52 305.20 L560.02 303.53 L560.52 301.66 L561.02 299.54 L561.52 297.17 L562.02 294.52 L562.52 291.61 L563.02 288.46 L563.52 285.14 L564.02 281.70 L564.52 278.22 L565.02 274.75 L565.52 271.34 L566.02 267.96 L566.52 264.60 L567.02 261.19 L567.52 257.67 L568.02 253.97 L568.52 250.07 L569.02 245.95 L569.52 241.66 L570.02 237.26 L570.52 232.81 L571.02 228.38 L571.52 224.03 L572.02 219.77 L572.52 215.64 L573.02 211.63 L573.52 207.76 L574.02 204.07 L574.52 200.61 L575.02 197.45 L575.52 194.67 L576.02 192.33 L576.52 190.45 L577.02 189.05 L577.52 188.11 L578.02 187.59 L578.52 187.48 L579.02 187.75 L579.52 188.44 L580.02 189.56 L580.52 191.16 L581.02 193.26 L581.52 195.83 L582.02 198.84 L582.52 202.20 L583.02 205.81 L583.52 209.59 L584.02 213.44 L584.52 217.33 L585.02 221.24 L585.52 225.17 L586.02 229.13 L586.52 233.11 L587.02 237.10 L587.52 241.07 L588.02 244.95 L588.52 248.69 L589.02 252.26 L589.52 255.64 L590.02 258.82 L590.52 261.84 L591.02 264.72 L591.52 267.50 L592.02 270.19 L592.52 272.79 L593.02 275.27 L593.52 277.62 L594.02 279.80 L594.52 281.79 L595.02 283.58 L595.52 285.18 L596.02 286.60 L596.52 287.88 L597.02 289.04 L597.52 290.09 L598.02 291.06 L598.52 291.96 L599.02 292.79 L599.52 293.56 L600.02 294.28 L600.52 294.96 L601.02 295.61 L601.52 296.22 L602.02 296.81 L602.52 297.37 L603.02 297.91 L603.52 298.42 L604.02 298.91 L604.52 299.38 L605.02 299.82 L605.52 300.25 L606.02 300.67 L606.52 301.08 L607.02 301.47 L607.52 301.84 L608.02 302.20 L608.52 302.53 L609.02 302.83 L609.52 303.12 L610.02 303.38 L610.52 303.62 L611.02 303.85 L611.52 304.07 L612.02 304.29 L612.52 304.49 L613.02 304.68 L613.52 304.85 L614.02 305.00 L614.52 305.13 L615.02 305.22 L615.52 305.30 L616.02 305.35 L616.52 305.39 L617.02 305.41 L617.52 305.43 L618.02 305.44 L618.52 305.45 L619.02 305.44 L619.52 305.43 L620.02 305.41 L620.52 305.39 L621.02 305.37 L621.52 305.34 L622.02 305.32 L622.52 305.31 L623.02 305.30 L623.52 305.29 L624.02 305.29 L624.52 305.29 L625.02 305.30 L625.52 305.31 L626.02 305.32 L626.52 305.34 L627.02 305.36 L627.52 305.40 L628.02 305.44 L628.52 305.49 L629.02 305.55 L629.52 305.62 L630.02 305.68 L630.52 305.76 L631.02 305.84 L631.52 305.92 L632.02 306.01 L632.52 306.10 L633.02 306.18 L633.52 306.27 L634.02 306.35 L634.52 306.43 L635.02 306.51 L635.52 306.58 L636.02 306.66 L636.52 306.73 L637.02 306.80 L637.52 306.86 L638.02 306.91 L638.52 306.94 L639.02 306.95 L639.52 306.94 L640.02 306.91 L640.52 306.86 L641.02 306.79 L641.52 306.71 L642.02 306.62 L642.52 306.51 L643.02 306.39 L643.52 306.27 L644.02 306.12 L644.52 305.96 L645.02 305.79 L645.52 305.61 L646.02 305.43 L646.52 305.25 L647.02 305.08 L647.52 304.92 L648.02 304.77 L648.52 304.64 L649.02 304.52 L649.52 304.42 L650.02 304.34 L650.52 304.27 L651.02 304.23 L651.52 304.21 L652.02 304.21 L652.52 304.22 L653.02 304.25 L653.52 304.30 L654.02 304.35 L654.52 304.42 L655.02 304.52 L655.52 304.66 L656.02 304.83 L656.52 305.05 L657.02 305.33 L657.52 305.65 L658.02 306.00 L658.52 306.39 L659.02 306.80 L659.52 307.22 L660.02 307.66 L660.52 308.10 L661.02 308.55 L661.52 309.02 L662.02 309.50 L662.52 309.99 L663.02 310.50 L663.52 311.00 L664.02 311.50 L664.52 311.98 L665.02 312.44 L665.52 312.88 L666.02 313.29 L666.52 313.68 L667.02 314.04 L667.52 314.38 L668.02 314.71 L668.52 315.01 L669.02 315.29 L669.52 315.55 L670.02 315.79 L670.52 316.01 L671.02 316.21 L671.52 316.38 L672.02 316.54 L672.52 316.68 L673.02 316.81 L673.52 316.92 L674.02 317.02 L674.52 317.11 L675.02 317.19 L675.52 317.25 L676.02 317.31 L676.52 317.36 L677.02 317.39 L677.52 317.42 L678.02 317.45 L678.52 317.46 L679.02 317.48 L679.52 317.48 L679.52 317.30 L551.02 317.30 Z" fill="#7f7f7f" fill-opacity="0.25" stroke="none"/>
<path d="M551.02 316.78 L551.52 316.58 L552.02 316.35 L552.52 316.08 L553.02 315.78 L553.52 315.44 L554.02 315.05 L554.52 314.61 L555.02 314.11 L555.52 313.54 L556.02 312.88 L556.52 312.12 L557.02 311.27 L557.52 310.31 L558.02 309.23 L558.52 308.03 L559.02 306.69 L559.52 305.20 L560.02 303.53 L560.52 301.66 L561.02 299.54 L561.52 297.17 L562.02 294.52 L562.52 291.61 L563.02 288.46 L563.52 285.14 L564.02 281.70 L564.52 278.22 L565.02 274.75 L565.52 271.34 L566.02 267.96 L566.52 264.60 L567.02 261.19 L567.52 257.67 L568.02 253.97 L568.52 250.07 L569.02 245.95 L569.52 241.66 L570.02 237.26 L570.52 232.81 L571.02 228.38 L571.52 224.03 L572.02 219.77 L572.52 215.64 L573.02 211.63 L573.52 207.76 L574.02 204.07 L574.52 200.61 L575.02 197.45 L575.52 194.67 L576.02 192.33 L576.52 190.45 L577.02 189.05 L577.52 188.11 L578.02 187.59 L578.52 187.48 L579.02 187.75 L579.52 188.44 L580.02 189.56 L580.52 191.16 L581.02 193.26 L581.52 195.83 L582.02 198.84 L582.52 202.20 L583.02 205.81 L583.52 209.59 L584.02 213.44 L584.52 217.33 L585.02 221.24 L585.52 225.17 L586.02 229.13 L586.52 233.11 L587.02 237.10 L587.52 241.07 L588.02 244.95 L588.52 248.69 L589.02 252.26 L589.52 255.64 L590.02 258.82 L590.52 261.84 L591.02 264.72 L591.52 267.50 L592.02 270.19 L592.52 272.79 L593.02 275.27 L593.52 277.62 L594.02 279.80 L594.52 281.79 L595.02 283.58 L595.52 285.18 L596.02 286.60 L596.52 287.88 L597.02 289.04 L597.52 290.09 L598.02 291.06 L598.52 291.96 L599.02 292.79 L599.52 293.56 L600.02 294.28 L600.52 294.96 L601.02 295.61 L601.52 296.22 L602.02 296.81 L602.52 297.37 L603.02 297.91 L603.52 298.42 L604.02 298.91 L604.52 299.38 L605.02 299.82 L605.52 300.25 L606.02 300.67 L606.52 301.08 L607.02 301.47 L607.52 301.84 L608.02 302.20 L608.52 302.53 L609.02 302.83 L609.52 303.12 L610.02 303.38 L610.52 303.62 L611.02 303.85 L611.52 304.07 L612.02 304.29 L612.52 304.49 L613.02 304.68 L613.52 304.85 L614.02 305.00 L614.52 305.13 L615.02 305.22 L615.52 305.30 L616.02 305.35 L616.52 305.39 L617.02 305.41 L617.52 305.43 L618.02 305.44 L618.52 305.45 L619.02 305.44 L619.52 305.43 L620.02 305.41 L620.52 305.39 L621.02 305.37 L621.52 305.34 L622.02 305.32 L622.52 305.31 L623.02 305.30 L623.52 305.29 L624.02 305.29 L624.52 305.29 L625.02 305.30 L625.52 305.31 L626.02 305.32 L626.52 305.34 L627.02 305.36 L627.52 305.40 L628.02 305.44 L628.52 305.49 L629.02 305.55 L629.52 305.62 L630.02 305.68 L630.52 305.76 L631.02 305.84 L631.52 305.92 L632.02 306.01 L632.52 306.10 L633.02 306.18 L633.52 306.27 L634.02 306.35 L634.52 306.43 L635.02 306.51 L635.52 306.58 L636.02 306.66 L636.52 306.73 L637.02 306.80 L637.52 306.86 L638.02 306.91 L638.52 306.94 L639.02 306.95 L639.52 306.94 L640.02 306.91 L640.52 306.86 L641.02 306.79 L641.52 306.71 L642.02 306.62 L642.52 306.51 L643.02 306.39 L643.52 306.27 L644.02 306.12 L644.52 305.96 L645.02 305.79 L645.52 305.61 L646.02 305.43 L646.52 305.25 L647.02 305.08 L647.52 304.92 L648.02 304.77 L648.52 304.64 L649.02 304.52 L649.52 304.42 L650.02 304.34 L650.52 304.27 L651.02 304.23 L651.52 304.21 L652.02 304.21 L652.52 304.22 L653.02 304.25 L653.52 304.30 L654.02 304.35 L654.52 304.42 L655.02 304.52 L655.52 304.66 L656.02 304.83 L656.52 305.05 L657.02 305.33 L657.52 305.65 L658.02 306.00 L658.52 306.39 L659.02 306.80 L659.52 307.22 L660.02 307.66 L660.52 308.10 L661.02 308.55 L661.52 309.02 L662.02 309.50 L662.52 309.99 L663.02 310.50 L663.52 311.00 L664.02 311.50 L664.52 311.98 L665.02 312.44 L665.52 312.88 L666.02 313.29 L666.52 313.68 L667.02 314.04 L667.52 314.38 L668.02 314.71 L668.52 315.01 L669.02 315.29 L669.52 315.55 L670.02 315.79 L670.52 316.01 L671.02 316.21 L671.52 316.38 L672.02 316.54 L672.52 316.68 L673.02 316.81 L673.52 316.92 L674.02 317.02 L674.52 317.11 L675.02 317.19 L675.52 317.25 L676.02 317.31 L676.52 317.36 L677.02 317.39 L677.52 317.42 L678.02 317.45 L678.52 317.46 L679.02 317.48 L679.52 317.48 L679.52 317.30 L551.02 317.30 Z" fill="none" stroke="#7f7f7f" stroke-width="0.6" stroke-linejoin="round"/>
<line x1="634.50" y1="181.50" x2="634.50" y2="317.50" stroke="#999" stroke-width="0.64" stroke-dasharray="2.37 1.03"/>
<path d="M579.80 311.20 L584.40 311.20 L582.10 315.80 Z" fill="#7f7f7f" stroke="#7f7f7f" stroke-width="0.5" stroke-linejoin="miter"/>
</g>
<line x1="575.50" y1="317.50" x2="575.50" y2="319.10" stroke="#333" stroke-width="0.55"/>
<text transform="translate(575.77 326.70) rotate(0.03)" class="t" font-size="8.2" text-anchor="middle">0.0</text>
<line x1="617.50" y1="317.50" x2="617.50" y2="319.10" stroke="#333" stroke-width="0.55"/>
<text transform="translate(617.46 326.70) rotate(0.03)" class="t" font-size="8.2" text-anchor="middle">0.5</text>
<line x1="659.50" y1="317.50" x2="659.50" y2="319.10" stroke="#333" stroke-width="0.55"/>
<text transform="translate(659.39 326.70) rotate(0.03)" class="t" font-size="8.2" text-anchor="middle">1.0</text>
<line x1="548.90" y1="317.50" x2="550.50" y2="317.50" stroke="#333" stroke-width="0.55"/>
<text transform="translate(547.40 320.30) rotate(0.03)" class="t" font-size="8.2" text-anchor="end">0.0</text>
<line x1="548.90" y1="294.50" x2="550.50" y2="294.50" stroke="#333" stroke-width="0.55"/>
<text transform="translate(547.40 297.55) rotate(0.03)" class="t" font-size="8.2" text-anchor="end">0.5</text>
<line x1="548.90" y1="271.50" x2="550.50" y2="271.50" stroke="#333" stroke-width="0.55"/>
<text transform="translate(547.40 274.80) rotate(0.03)" class="t" font-size="8.2" text-anchor="end">1.0</text>
<line x1="548.90" y1="249.50" x2="550.50" y2="249.50" stroke="#333" stroke-width="0.55"/>
<text transform="translate(547.40 252.05) rotate(0.03)" class="t" font-size="8.2" text-anchor="end">1.5</text>
<line x1="548.90" y1="226.50" x2="550.50" y2="226.50" stroke="#333" stroke-width="0.55"/>
<text transform="translate(547.40 229.30) rotate(0.03)" class="t" font-size="8.2" text-anchor="end">2.0</text>
<line x1="548.90" y1="203.50" x2="550.50" y2="203.50" stroke="#333" stroke-width="0.55"/>
<text transform="translate(547.40 206.55) rotate(0.03)" class="t" font-size="8.2" text-anchor="end">2.5</text>
<rect x="550.50" y="181.50" width="134.00" height="136.00" fill="none" stroke="#333" stroke-width="0.55"/>
<text transform="translate(530.80 249.50) rotate(-90.03)" font-size="10.6" text-anchor="middle">Density</text>
<text transform="translate(616.70 339.10) rotate(0.03)" font-size="10.6" text-anchor="middle">BBB(cm · s<tspan font-size="7.42" dy="-3.60">−1</tspan><tspan dy="3.60">) <tspan dx="-1.4">↓</tspan></tspan></text>
</g>
<g id="ax8">
<g clip-path="url(#c8)">
<path d="M28.65 483.58 L29.15 482.94 L29.65 482.23 L30.15 481.44 L30.65 480.58 L31.15 479.64 L31.65 478.61 L32.15 477.49 L32.65 476.28 L33.15 474.98 L33.65 473.59 L34.15 472.11 L34.65 470.53 L35.15 468.87 L35.65 467.12 L36.15 465.27 L36.65 463.33 L37.15 461.29 L37.65 459.15 L38.15 456.90 L38.65 454.53 L39.15 452.05 L39.65 449.46 L40.15 446.78 L40.65 444.01 L41.15 441.18 L41.65 438.31 L42.15 435.41 L42.65 432.50 L43.15 429.59 L43.65 426.68 L44.15 423.76 L44.65 420.82 L45.15 417.83 L45.65 414.76 L46.15 411.60 L46.65 408.31 L47.15 404.89 L47.65 401.35 L48.15 397.70 L48.65 393.97 L49.15 390.21 L49.65 386.47 L50.15 382.82 L50.65 379.30 L51.15 375.99 L51.65 372.91 L52.15 370.11 L52.65 367.62 L53.15 365.43 L53.65 363.56 L54.15 361.98 L54.65 360.70 L55.15 359.67 L55.65 358.89 L56.15 358.30 L56.65 357.89 L57.15 357.64 L57.65 357.50 L58.15 357.48 L58.65 357.56 L59.15 357.73 L59.65 358.03 L60.15 358.45 L60.65 359.03 L61.15 359.79 L61.65 360.75 L62.15 361.94 L62.65 363.36 L63.15 365.00 L63.65 366.84 L64.15 368.85 L64.65 371.00 L65.15 373.23 L65.65 375.51 L66.15 377.80 L66.65 380.08 L67.15 382.32 L67.65 384.53 L68.15 386.70 L68.65 388.85 L69.15 390.98 L69.65 393.10 L70.15 395.20 L70.65 397.29 L71.15 399.34 L71.65 401.33 L72.15 403.26 L72.65 405.09 L73.15 406.82 L73.65 408.44 L74.15 409.95 L74.65 411.37 L75.15 412.71 L75.65 414.00 L76.15 415.24 L76.65 416.47 L77.15 417.70 L77.65 418.93 L78.15 420.17 L78.65 421.42 L79.15 422.68 L79.65 423.93 L80.15 425.17 L80.65 426.40 L81.15 427.61 L81.65 428.80 L82.15 429.96 L82.65 431.11 L83.15 432.23 L83.65 433.33 L84.15 434.41 L84.65 435.47 L85.15 436.50 L85.65 437.52 L86.15 438.51 L86.65 439.48 L87.15 440.42 L87.65 441.33 L88.15 442.22 L88.65 443.08 L89.15 443.90 L89.65 444.69 L90.15 445.46 L90.65 446.19 L91.15 446.88 L91.65 447.55 L92.15 448.18 L92.65 448.79 L93.15 449.36 L93.65 449.90 L94.15 450.40 L94.65 450.87 L95.15 451.30 L95.65 451.70 L96.15 452.05 L96.65 452.37 L97.15 452.66 L97.65 452.92 L98.15 453.15 L98.65 453.37 L99.15 453.56 L99.65 453.73 L100.15 453.89 L100.65 454.03 L101.15 454.13 L101.65 454.21 L102.15 454.24 L102.65 454.23 L103.15 454.18 L103.65 454.09 L104.15 453.96 L104.65 453.80 L105.15 453.62 L105.65 453.43 L106.15 453.23 L106.65 453.02 L107.15 452.80 L107.65 452.54 L108.15 452.24 L108.65 451.87 L109.15 451.42 L109.65 450.87 L110.15 450.21 L110.65 449.44 L111.15 448.56 L111.65 447.58 L112.15 446.53 L112.65 445.43 L113.15 444.30 L113.65 443.16 L114.15 442.04 L114.65 440.93 L115.15 439.86 L115.65 438.80 L116.15 437.76 L116.65 436.72 L117.15 435.67 L117.65 434.60 L118.15 433.52 L118.65 432.42 L119.15 431.31 L119.65 430.21 L120.15 429.13 L120.65 428.08 L121.15 427.10 L121.65 426.17 L122.15 425.33 L122.65 424.57 L123.15 423.89 L123.65 423.28 L124.15 422.75 L124.65 422.29 L125.15 421.90 L125.65 421.56 L126.15 421.27 L126.65 421.05 L127.15 420.87 L127.65 420.74 L128.15 420.66 L128.65 420.63 L129.15 420.65 L129.65 420.72 L130.15 420.86 L130.65 421.07 L131.15 421.35 L131.65 421.72 L132.15 422.18 L132.65 422.75 L133.15 423.44 L133.65 424.23 L134.15 425.15 L134.65 426.17 L135.15 427.29 L135.65 428.52 L136.15 429.83 L136.65 431.24 L137.15 432.72 L137.65 434.29 L138.15 435.93 L138.65 437.65 L139.15 439.45 L139.65 441.32 L140.15 443.24 L140.65 445.22 L141.15 447.22 L141.65 449.23 L142.15 451.24 L142.65 453.22 L143.15 455.15 L143.65 457.02 L144.15 458.82 L144.65 460.54 L145.15 462.18 L145.65 463.75 L146.15 465.25 L146.65 466.69 L147.15 468.07 L147.65 469.39 L148.15 470.67 L148.65 471.89 L149.15 473.07 L149.65 474.19 L150.15 475.25 L150.65 476.26 L151.15 477.20 L151.65 478.07 L152.15 478.88 L152.65 479.63 L153.15 480.32 L153.65 480.96 L154.15 481.55 L154.65 482.10 L155.15 482.61 L155.65 483.10 L156.15 483.55 L156.65 483.99 L157.15 484.40 L157.65 484.78 L158.15 485.14 L158.65 485.48 L159.15 485.78 L159.65 486.06 L160.15 486.31 L160.65 486.53 L161.15 486.72 L161.15 487.50 L28.65 487.50 Z" fill="#bcbd22" fill-opacity="0.25" stroke="none"/>
<path d="M28.65 483.58 L29.15 482.94 L29.65 482.23 L30.15 481.44 L30.65 480.58 L31.15 479.64 L31.65 478.61 L32.15 477.49 L32.65 476.28 L33.15 474.98 L33.65 473.59 L34.15 472.11 L34.65 470.53 L35.15 468.87 L35.65 467.12 L36.15 465.27 L36.65 463.33 L37.15 461.29 L37.65 459.15 L38.15 456.90 L38.65 454.53 L39.15 452.05 L39.65 449.46 L40.15 446.78 L40.65 444.01 L41.15 441.18 L41.65 438.31 L42.15 435.41 L42.65 432.50 L43.15 429.59 L43.65 426.68 L44.15 423.76 L44.65 420.82 L45.15 417.83 L45.65 414.76 L46.15 411.60 L46.65 408.31 L47.15 404.89 L47.65 401.35 L48.15 397.70 L48.65 393.97 L49.15 390.21 L49.65 386.47 L50.15 382.82 L50.65 379.30 L51.15 375.99 L51.65 372.91 L52.15 370.11 L52.65 367.62 L53.15 365.43 L53.65 363.56 L54.15 361.98 L54.65 360.70 L55.15 359.67 L55.65 358.89 L56.15 358.30 L56.65 357.89 L57.15 357.64 L57.65 357.50 L58.15 357.48 L58.65 357.56 L59.15 357.73 L59.65 358.03 L60.15 358.45 L60.65 359.03 L61.15 359.79 L61.65 360.75 L62.15 361.94 L62.65 363.36 L63.15 365.00 L63.65 366.84 L64.15 368.85 L64.65 371.00 L65.15 373.23 L65.65 375.51 L66.15 377.80 L66.65 380.08 L67.15 382.32 L67.65 384.53 L68.15 386.70 L68.65 388.85 L69.15 390.98 L69.65 393.10 L70.15 395.20 L70.65 397.29 L71.15 399.34 L71.65 401.33 L72.15 403.26 L72.65 405.09 L73.15 406.82 L73.65 408.44 L74.15 409.95 L74.65 411.37 L75.15 412.71 L75.65 414.00 L76.15 415.24 L76.65 416.47 L77.15 417.70 L77.65 418.93 L78.15 420.17 L78.65 421.42 L79.15 422.68 L79.65 423.93 L80.15 425.17 L80.65 426.40 L81.15 427.61 L81.65 428.80 L82.15 429.96 L82.65 431.11 L83.15 432.23 L83.65 433.33 L84.15 434.41 L84.65 435.47 L85.15 436.50 L85.65 437.52 L86.15 438.51 L86.65 439.48 L87.15 440.42 L87.65 441.33 L88.15 442.22 L88.65 443.08 L89.15 443.90 L89.65 444.69 L90.15 445.46 L90.65 446.19 L91.15 446.88 L91.65 447.55 L92.15 448.18 L92.65 448.79 L93.15 449.36 L93.65 449.90 L94.15 450.40 L94.65 450.87 L95.15 451.30 L95.65 451.70 L96.15 452.05 L96.65 452.37 L97.15 452.66 L97.65 452.92 L98.15 453.15 L98.65 453.37 L99.15 453.56 L99.65 453.73 L100.15 453.89 L100.65 454.03 L101.15 454.13 L101.65 454.21 L102.15 454.24 L102.65 454.23 L103.15 454.18 L103.65 454.09 L104.15 453.96 L104.65 453.80 L105.15 453.62 L105.65 453.43 L106.15 453.23 L106.65 453.02 L107.15 452.80 L107.65 452.54 L108.15 452.24 L108.65 451.87 L109.15 451.42 L109.65 450.87 L110.15 450.21 L110.65 449.44 L111.15 448.56 L111.65 447.58 L112.15 446.53 L112.65 445.43 L113.15 444.30 L113.65 443.16 L114.15 442.04 L114.65 440.93 L115.15 439.86 L115.65 438.80 L116.15 437.76 L116.65 436.72 L117.15 435.67 L117.65 434.60 L118.15 433.52 L118.65 432.42 L119.15 431.31 L119.65 430.21 L120.15 429.13 L120.65 428.08 L121.15 427.10 L121.65 426.17 L122.15 425.33 L122.65 424.57 L123.15 423.89 L123.65 423.28 L124.15 422.75 L124.65 422.29 L125.15 421.90 L125.65 421.56 L126.15 421.27 L126.65 421.05 L127.15 420.87 L127.65 420.74 L128.15 420.66 L128.65 420.63 L129.15 420.65 L129.65 420.72 L130.15 420.86 L130.65 421.07 L131.15 421.35 L131.65 421.72 L132.15 422.18 L132.65 422.75 L133.15 423.44 L133.65 424.23 L134.15 425.15 L134.65 426.17 L135.15 427.29 L135.65 428.52 L136.15 429.83 L136.65 431.24 L137.15 432.72 L137.65 434.29 L138.15 435.93 L138.65 437.65 L139.15 439.45 L139.65 441.32 L140.15 443.24 L140.65 445.22 L141.15 447.22 L141.65 449.23 L142.15 451.24 L142.65 453.22 L143.15 455.15 L143.65 457.02 L144.15 458.82 L144.65 460.54 L145.15 462.18 L145.65 463.75 L146.15 465.25 L146.65 466.69 L147.15 468.07 L147.65 469.39 L148.15 470.67 L148.65 471.89 L149.15 473.07 L149.65 474.19 L150.15 475.25 L150.65 476.26 L151.15 477.20 L151.65 478.07 L152.15 478.88 L152.65 479.63 L153.15 480.32 L153.65 480.96 L154.15 481.55 L154.65 482.10 L155.15 482.61 L155.65 483.10 L156.15 483.55 L156.65 483.99 L157.15 484.40 L157.65 484.78 L158.15 485.14 L158.65 485.48 L159.15 485.78 L159.65 486.06 L160.15 486.31 L160.65 486.53 L161.15 486.72 L161.15 487.50 L28.65 487.50 Z" fill="none" stroke="#bcbd22" stroke-width="0.6" stroke-linejoin="round"/>
<line x1="78.50" y1="351.50" x2="78.50" y2="487.50" stroke="#999" stroke-width="0.64" stroke-dasharray="2.37 1.03"/>
<path d="M53.00 481.30 L57.60 481.30 L55.30 485.90 Z" fill="#bcbd22" stroke="#bcbd22" stroke-width="0.5" stroke-linejoin="miter"/>
</g>
<line x1="53.50" y1="487.50" x2="53.50" y2="489.10" stroke="#333" stroke-width="0.55"/>
<text transform="translate(53.48 497.10) rotate(0.03)" class="t" font-size="8.2" text-anchor="middle">0.0</text>
<line x1="95.50" y1="487.50" x2="95.50" y2="489.10" stroke="#333" stroke-width="0.55"/>
<text transform="translate(95.42 497.10) rotate(0.03)" class="t" font-size="8.2" text-anchor="middle">0.5</text>
<line x1="137.50" y1="487.50" x2="137.50" y2="489.10" stroke="#333" stroke-width="0.55"/>
<text transform="translate(137.35 497.10) rotate(0.03)" class="t" font-size="8.2" text-anchor="middle">1.0</text>
<line x1="26.90" y1="487.50" x2="28.50" y2="487.50" stroke="#333" stroke-width="0.55"/>
<text transform="translate(25.40 490.50) rotate(0.03)" class="t" font-size="8.2" text-anchor="end">0.0</text>
<line x1="26.90" y1="470.50" x2="28.50" y2="470.50" stroke="#333" stroke-width="0.55"/>
<text transform="translate(25.40 473.06) rotate(0.03)" class="t" font-size="8.2" text-anchor="end">0.2</text>
<line x1="26.90" y1="452.50" x2="28.50" y2="452.50" stroke="#333" stroke-width="0.55"/>
<text transform="translate(25.40 455.62) rotate(0.03)" class="t" font-size="8.2" text-anchor="end">0.4</text>
<line x1="26.90" y1="435.50" x2="28.50" y2="435.50" stroke="#333" stroke-width="0.55"/>
<text transform="translate(25.40 438.18) rotate(0.03)" class="t" font-size="8.2" text-anchor="end">0.6</text>
<line x1="26.90" y1="417.50" x2="28.50" y2="417.50" stroke="#333" stroke-width="0.55"/>
<text transform="translate(25.40 420.74) rotate(0.03)" class="t" font-size="8.2" text-anchor="end">0.8</text>
<line x1="26.90" y1="400.50" x2="28.50" y2="400.50" stroke="#333" stroke-width="0.55"/>
<text transform="translate(25.40 403.30) rotate(0.03)" class="t" font-size="8.2" text-anchor="end">1.0</text>
<line x1="26.90" y1="382.50" x2="28.50" y2="382.50" stroke="#333" stroke-width="0.55"/>
<text transform="translate(25.40 385.86) rotate(0.03)" class="t" font-size="8.2" text-anchor="end">1.2</text>
<line x1="26.90" y1="365.50" x2="28.50" y2="365.50" stroke="#333" stroke-width="0.55"/>
<text transform="translate(25.40 368.42) rotate(0.03)" class="t" font-size="8.2" text-anchor="end">1.4</text>
<rect x="28.50" y="351.50" width="134.00" height="136.00" fill="none" stroke="#333" stroke-width="0.55"/>
<text transform="translate(9.00 419.50) rotate(-90.03)" font-size="10.6" text-anchor="middle">Density</text>
<text transform="translate(94.70 508.50) rotate(0.03)" font-size="10.6" text-anchor="middle">HLM <tspan dx="-1.4">↓</tspan></text>
</g>
<g id="ax9">
<g clip-path="url(#c9)">
<path d="M213.00 487.49 L213.50 487.48 L214.00 487.46 L214.50 487.43 L215.00 487.39 L215.50 487.32 L216.00 487.23 L216.50 487.10 L217.00 486.92 L217.50 486.69 L218.00 486.39 L218.50 486.01 L219.00 485.54 L219.50 484.98 L220.00 484.31 L220.50 483.52 L221.00 482.60 L221.50 481.54 L222.00 480.34 L222.50 478.98 L223.00 477.46 L223.50 475.77 L224.00 473.92 L224.50 471.92 L225.00 469.78 L225.50 467.52 L226.00 465.13 L226.50 462.64 L227.00 460.03 L227.50 457.32 L228.00 454.52 L228.50 451.65 L229.00 448.75 L229.50 445.85 L230.00 442.95 L230.50 440.06 L231.00 437.13 L231.50 434.15 L232.00 431.07 L232.50 427.88 L233.00 424.59 L233.50 421.24 L234.00 417.86 L234.50 414.49 L235.00 411.14 L235.50 407.81 L236.00 404.48 L236.50 401.14 L237.00 397.80 L237.50 394.46 L238.00 391.16 L238.50 387.91 L239.00 384.74 L239.50 381.66 L240.00 378.68 L240.50 375.81 L241.00 373.07 L241.50 370.50 L242.00 368.13 L242.50 365.98 L243.00 364.08 L243.50 362.44 L244.00 361.05 L244.50 359.93 L245.00 359.06 L245.50 358.45 L246.00 358.08 L246.50 357.95 L247.00 358.06 L247.50 358.41 L248.00 359.04 L248.50 359.99 L249.00 361.27 L249.50 362.92 L250.00 364.92 L250.50 367.23 L251.00 369.81 L251.50 372.62 L252.00 375.62 L252.50 378.78 L253.00 382.07 L253.50 385.47 L254.00 388.94 L254.50 392.41 L255.00 395.83 L255.50 399.15 L256.00 402.33 L256.50 405.38 L257.00 408.33 L257.50 411.22 L258.00 414.09 L258.50 416.92 L259.00 419.69 L259.50 422.34 L260.00 424.81 L260.50 427.07 L261.00 429.13 L261.50 431.05 L262.00 432.89 L262.50 434.69 L263.00 436.48 L263.50 438.25 L264.00 439.94 L264.50 441.50 L265.00 442.90 L265.50 444.13 L266.00 445.23 L266.50 446.23 L267.00 447.19 L267.50 448.14 L268.00 449.08 L268.50 450.02 L269.00 450.93 L269.50 451.81 L270.00 452.66 L270.50 453.48 L271.00 454.29 L271.50 455.11 L272.00 455.95 L272.50 456.81 L273.00 457.69 L273.50 458.60 L274.00 459.53 L274.50 460.49 L275.00 461.49 L275.50 462.53 L276.00 463.60 L276.50 464.71 L277.00 465.84 L277.50 466.99 L278.00 468.16 L278.50 469.34 L279.00 470.52 L279.50 471.68 L280.00 472.80 L280.50 473.86 L281.00 474.84 L281.50 475.74 L282.00 476.56 L282.50 477.31 L283.00 478.01 L283.50 478.66 L284.00 479.27 L284.50 479.85 L285.00 480.40 L285.50 480.90 L286.00 481.36 L286.50 481.78 L287.00 482.17 L287.50 482.53 L288.00 482.87 L288.50 483.18 L289.00 483.46 L289.50 483.73 L290.00 483.98 L290.50 484.22 L291.00 484.44 L291.50 484.65 L292.00 484.84 L292.50 485.01 L293.00 485.15 L293.50 485.25 L294.00 485.33 L294.50 485.38 L295.00 485.41 L295.50 485.42 L296.00 485.43 L296.50 485.44 L297.00 485.45 L297.50 485.46 L298.00 485.47 L298.50 485.47 L299.00 485.47 L299.50 485.46 L300.00 485.46 L300.50 485.46 L301.00 485.48 L301.50 485.52 L302.00 485.59 L302.50 485.67 L303.00 485.76 L303.50 485.88 L304.00 485.99 L304.50 486.12 L305.00 486.24 L305.50 486.37 L306.00 486.49 L306.50 486.61 L307.00 486.73 L307.50 486.85 L308.00 486.96 L308.50 487.06 L309.00 487.15 L309.50 487.23 L310.00 487.30 L310.50 487.35 L311.00 487.40 L311.50 487.43 L312.00 487.45 L312.50 487.47 L313.00 487.48 L313.00 487.50 L213.00 487.50 Z" fill="#17becf" fill-opacity="0.25" stroke="none"/>
<path d="M213.00 487.49 L213.50 487.48 L214.00 487.46 L214.50 487.43 L215.00 487.39 L215.50 487.32 L216.00 487.23 L216.50 487.10 L217.00 486.92 L217.50 486.69 L218.00 486.39 L218.50 486.01 L219.00 485.54 L219.50 484.98 L220.00 484.31 L220.50 483.52 L221.00 482.60 L221.50 481.54 L222.00 480.34 L222.50 478.98 L223.00 477.46 L223.50 475.77 L224.00 473.92 L224.50 471.92 L225.00 469.78 L225.50 467.52 L226.00 465.13 L226.50 462.64 L227.00 460.03 L227.50 457.32 L228.00 454.52 L228.50 451.65 L229.00 448.75 L229.50 445.85 L230.00 442.95 L230.50 440.06 L231.00 437.13 L231.50 434.15 L232.00 431.07 L232.50 427.88 L233.00 424.59 L233.50 421.24 L234.00 417.86 L234.50 414.49 L235.00 411.14 L235.50 407.81 L236.00 404.48 L236.50 401.14 L237.00 397.80 L237.50 394.46 L238.00 391.16 L238.50 387.91 L239.00 384.74 L239.50 381.66 L240.00 378.68 L240.50 375.81 L241.00 373.07 L241.50 370.50 L242.00 368.13 L242.50 365.98 L243.00 364.08 L243.50 362.44 L244.00 361.05 L244.50 359.93 L245.00 359.06 L245.50 358.45 L246.00 358.08 L246.50 357.95 L247.00 358.06 L247.50 358.41 L248.00 359.04 L248.50 359.99 L249.00 361.27 L249.50 362.92 L250.00 364.92 L250.50 367.23 L251.00 369.81 L251.50 372.62 L252.00 375.62 L252.50 378.78 L253.00 382.07 L253.50 385.47 L254.00 388.94 L254.50 392.41 L255.00 395.83 L255.50 399.15 L256.00 402.33 L256.50 405.38 L257.00 408.33 L257.50 411.22 L258.00 414.09 L258.50 416.92 L259.00 419.69 L259.50 422.34 L260.00 424.81 L260.50 427.07 L261.00 429.13 L261.50 431.05 L262.00 432.89 L262.50 434.69 L263.00 436.48 L263.50 438.25 L264.00 439.94 L264.50 441.50 L265.00 442.90 L265.50 444.13 L266.00 445.23 L266.50 446.23 L267.00 447.19 L267.50 448.14 L268.00 449.08 L268.50 450.02 L269.00 450.93 L269.50 451.81 L270.00 452.66 L270.50 453.48 L271.00 454.29 L271.50 455.11 L272.00 455.95 L272.50 456.81 L273.00 457.69 L273.50 458.60 L274.00 459.53 L274.50 460.49 L275.00 461.49 L275.50 462.53 L276.00 463.60 L276.50 464.71 L277.00 465.84 L277.50 466.99 L278.00 468.16 L278.50 469.34 L279.00 470.52 L279.50 471.68 L280.00 472.80 L280.50 473.86 L281.00 474.84 L281.50 475.74 L282.00 476.56 L282.50 477.31 L283.00 478.01 L283.50 478.66 L284.00 479.27 L284.50 479.85 L285.00 480.40 L285.50 480.90 L286.00 481.36 L286.50 481.78 L287.00 482.17 L287.50 482.53 L288.00 482.87 L288.50 483.18 L289.00 483.46 L289.50 483.73 L290.00 483.98 L290.50 484.22 L291.00 484.44 L291.50 484.65 L292.00 484.84 L292.50 485.01 L293.00 485.15 L293.50 485.25 L294.00 485.33 L294.50 485.38 L295.00 485.41 L295.50 485.42 L296.00 485.43 L296.50 485.44 L297.00 485.45 L297.50 485.46 L298.00 485.47 L298.50 485.47 L299.00 485.47 L299.50 485.46 L300.00 485.46 L300.50 485.46 L301.00 485.48 L301.50 485.52 L302.00 485.59 L302.50 485.67 L303.00 485.76 L303.50 485.88 L304.00 485.99 L304.50 486.12 L305.00 486.24 L305.50 486.37 L306.00 486.49 L306.50 486.61 L307.00 486.73 L307.50 486.85 L308.00 486.96 L308.50 487.06 L309.00 487.15 L309.50 487.23 L310.00 487.30 L310.50 487.35 L311.00 487.40 L311.50 487.43 L312.00 487.45 L312.50 487.47 L313.00 487.48 L313.00 487.50 L213.00 487.50 Z" fill="none" stroke="#17becf" stroke-width="0.6" stroke-linejoin="round"/>
<line x1="252.50" y1="351.50" x2="252.50" y2="487.50" stroke="#999" stroke-width="0.64" stroke-dasharray="2.37 1.03"/>
<path d="M237.10 481.30 L241.70 481.30 L239.40 485.90 Z" fill="#17becf" stroke="#17becf" stroke-width="0.5" stroke-linejoin="miter"/>
</g>
<line x1="219.50" y1="487.50" x2="219.50" y2="489.10" stroke="#333" stroke-width="0.55"/>
<text transform="translate(219.21 497.10) rotate(0.03)" class="t" font-size="8.2" text-anchor="middle">0.0</text>
<line x1="269.50" y1="487.50" x2="269.50" y2="489.10" stroke="#333" stroke-width="0.55"/>
<text transform="translate(269.42 497.10) rotate(0.03)" class="t" font-size="8.2" text-anchor="middle">1.5</text>
<line x1="319.50" y1="487.50" x2="319.50" y2="489.10" stroke="#333" stroke-width="0.55"/>
<text transform="translate(319.64 497.10) rotate(0.03)" class="t" font-size="8.2" text-anchor="middle">3.0</text>
<line x1="200.90" y1="487.50" x2="202.50" y2="487.50" stroke="#333" stroke-width="0.55"/>
<text transform="translate(199.40 490.50) rotate(0.03)" class="t" font-size="8.2" text-anchor="end">0.0</text>
<line x1="200.90" y1="463.50" x2="202.50" y2="463.50" stroke="#333" stroke-width="0.55"/>
<text transform="translate(199.40 466.93) rotate(0.03)" class="t" font-size="8.2" text-anchor="end">0.2</text>
<line x1="200.90" y1="440.50" x2="202.50" y2="440.50" stroke="#333" stroke-width="0.55"/>
<text transform="translate(199.40 443.36) rotate(0.03)" class="t" font-size="8.2" text-anchor="end">0.4</text>
<line x1="200.90" y1="416.50" x2="202.50" y2="416.50" stroke="#333" stroke-width="0.55"/>
<text transform="translate(199.40 419.79) rotate(0.03)" class="t" font-size="8.2" text-anchor="end">0.6</text>
<line x1="200.90" y1="393.50" x2="202.50" y2="393.50" stroke="#333" stroke-width="0.55"/>
<text transform="translate(199.40 396.22) rotate(0.03)" class="t" font-size="8.2" text-anchor="end">0.8</text>
<line x1="200.90" y1="369.50" x2="202.50" y2="369.50" stroke="#333" stroke-width="0.55"/>
<text transform="translate(199.40 372.65) rotate(0.03)" class="t" font-size="8.2" text-anchor="end">1.0</text>
<rect x="202.50" y="351.50" width="134.00" height="136.00" fill="none" stroke="#333" stroke-width="0.55"/>
<text transform="translate(182.40 419.50) rotate(-90.03)" font-size="10.6" text-anchor="middle">Density</text>
<text transform="translate(268.70 508.80) rotate(0.03)" font-size="10.6" text-anchor="middle">T12(h) <tspan dx="-1.4">↑</tspan></text>
</g>
<g id="ax10">
<g clip-path="url(#c10)">
<path d="M386.50 487.49 L387.00 487.47 L387.50 487.44 L388.00 487.39 L388.50 487.29 L389.00 487.14 L389.50 486.91 L390.00 486.59 L390.50 486.17 L391.00 485.63 L391.50 484.97 L392.00 484.18 L392.50 483.21 L393.00 482.01 L393.50 480.53 L394.00 478.69 L394.50 476.46 L395.00 473.87 L395.50 470.97 L396.00 467.81 L396.50 464.38 L397.00 460.56 L397.50 456.18 L398.00 451.00 L398.50 444.91 L399.00 438.00 L399.50 430.55 L400.00 423.00 L400.50 415.78 L401.00 409.13 L401.50 403.04 L402.00 397.34 L402.50 391.76 L403.00 386.22 L403.50 380.79 L404.00 375.72 L404.50 371.26 L405.00 367.55 L405.50 364.55 L406.00 362.15 L406.50 360.25 L407.00 358.86 L407.50 358.08 L408.00 358.03 L408.50 358.73 L409.00 360.09 L409.50 361.99 L410.00 364.31 L410.50 367.02 L411.00 370.13 L411.50 373.62 L412.00 377.42 L412.50 381.40 L413.00 385.42 L413.50 389.39 L414.00 393.28 L414.50 397.10 L415.00 400.84 L415.50 404.43 L416.00 407.79 L416.50 410.83 L417.00 413.54 L417.50 415.99 L418.00 418.25 L418.50 420.40 L419.00 422.43 L419.50 424.29 L420.00 425.93 L420.50 427.34 L421.00 428.60 L421.50 429.82 L422.00 431.10 L422.50 432.45 L423.00 433.83 L423.50 435.17 L424.00 436.41 L424.50 437.57 L425.00 438.73 L425.50 439.96 L426.00 441.28 L426.50 442.67 L427.00 444.06 L427.50 445.41 L428.00 446.73 L428.50 448.07 L429.00 449.48 L429.50 451.00 L430.00 452.62 L430.50 454.30 L431.00 455.99 L431.50 457.63 L432.00 459.21 L432.50 460.70 L433.00 462.08 L433.50 463.36 L434.00 464.53 L434.50 465.61 L435.00 466.60 L435.50 467.49 L436.00 468.28 L436.50 468.94 L437.00 469.49 L437.50 469.94 L438.00 470.30 L438.50 470.61 L439.00 470.87 L439.50 471.09 L440.00 471.26 L440.50 471.40 L441.00 471.53 L441.50 471.67 L442.00 471.82 L442.50 472.00 L443.00 472.19 L443.50 472.39 L444.00 472.59 L444.50 472.80 L445.00 473.02 L445.50 473.26 L446.00 473.51 L446.50 473.77 L447.00 474.04 L447.50 474.31 L448.00 474.58 L448.50 474.85 L449.00 475.13 L449.50 475.40 L450.00 475.68 L450.50 475.96 L451.00 476.25 L451.50 476.53 L452.00 476.82 L452.50 477.11 L453.00 477.40 L453.50 477.70 L454.00 477.99 L454.50 478.30 L455.00 478.61 L455.50 478.94 L456.00 479.28 L456.50 479.63 L457.00 479.99 L457.50 480.35 L458.00 480.72 L458.50 481.12 L459.00 481.53 L459.50 481.95 L460.00 482.39 L460.50 482.82 L461.00 483.25 L461.50 483.65 L462.00 484.03 L462.50 484.39 L463.00 484.72 L463.50 485.01 L464.00 485.27 L464.50 485.50 L465.00 485.70 L465.50 485.86 L466.00 486.00 L466.50 486.09 L467.00 486.16 L467.50 486.21 L468.00 486.23 L468.50 486.23 L469.00 486.21 L469.50 486.16 L470.00 486.09 L470.50 485.99 L471.00 485.88 L471.50 485.77 L472.00 485.67 L472.50 485.58 L473.00 485.52 L473.50 485.48 L474.00 485.47 L474.50 485.48 L475.00 485.51 L475.50 485.56 L476.00 485.64 L476.50 485.73 L477.00 485.84 L477.50 485.97 L478.00 486.12 L478.50 486.28 L479.00 486.43 L479.50 486.59 L480.00 486.73 L480.50 486.85 L481.00 486.97 L481.50 487.07 L482.00 487.15 L482.50 487.23 L483.00 487.30 L483.50 487.36 L484.00 487.40 L484.50 487.44 L485.00 487.46 L485.50 487.48 L486.00 487.49 L486.00 487.50 L386.50 487.50 Z" fill="#1f77b4" fill-opacity="0.25" stroke="none"/>
<path d="M386.50 487.49 L387.00 487.47 L387.50 487.44 L388.00 487.39 L388.50 487.29 L389.00 487.14 L389.50 486.91 L390.00 486.59 L390.50 486.17 L391.00 485.63 L391.50 484.97 L392.00 484.18 L392.50 483.21 L393.00 482.01 L393.50 480.53 L394.00 478.69 L394.50 476.46 L395.00 473.87 L395.50 470.97 L396.00 467.81 L396.50 464.38 L397.00 460.56 L397.50 456.18 L398.00 451.00 L398.50 444.91 L399.00 438.00 L399.50 430.55 L400.00 423.00 L400.50 415.78 L401.00 409.13 L401.50 403.04 L402.00 397.34 L402.50 391.76 L403.00 386.22 L403.50 380.79 L404.00 375.72 L404.50 371.26 L405.00 367.55 L405.50 364.55 L406.00 362.15 L406.50 360.25 L407.00 358.86 L407.50 358.08 L408.00 358.03 L408.50 358.73 L409.00 360.09 L409.50 361.99 L410.00 364.31 L410.50 367.02 L411.00 370.13 L411.50 373.62 L412.00 377.42 L412.50 381.40 L413.00 385.42 L413.50 389.39 L414.00 393.28 L414.50 397.10 L415.00 400.84 L415.50 404.43 L416.00 407.79 L416.50 410.83 L417.00 413.54 L417.50 415.99 L418.00 418.25 L418.50 420.40 L419.00 422.43 L419.50 424.29 L420.00 425.93 L420.50 427.34 L421.00 428.60 L421.50 429.82 L422.00 431.10 L422.50 432.45 L423.00 433.83 L423.50 435.17 L424.00 436.41 L424.50 437.57 L425.00 438.73 L425.50 439.96 L426.00 441.28 L426.50 442.67 L427.00 444.06 L427.50 445.41 L428.00 446.73 L428.50 448.07 L429.00 449.48 L429.50 451.00 L430.00 452.62 L430.50 454.30 L431.00 455.99 L431.50 457.63 L432.00 459.21 L432.50 460.70 L433.00 462.08 L433.50 463.36 L434.00 464.53 L434.50 465.61 L435.00 466.60 L435.50 467.49 L436.00 468.28 L436.50 468.94 L437.00 469.49 L437.50 469.94 L438.00 470.30 L438.50 470.61 L439.00 470.87 L439.50 471.09 L440.00 471.26 L440.50 471.40 L441.00 471.53 L441.50 471.67 L442.00 471.82 L442.50 472.00 L443.00 472.19 L443.50 472.39 L444.00 472.59 L444.50 472.80 L445.00 473.02 L445.50 473.26 L446.00 473.51 L446.50 473.77 L447.00 474.04 L447.50 474.31 L448.00 474.58 L448.50 474.85 L449.00 475.13 L449.50 475.40 L450.00 475.68 L450.50 475.96 L451.00 476.25 L451.50 476.53 L452.00 476.82 L452.50 477.11 L453.00 477.40 L453.50 477.70 L454.00 477.99 L454.50 478.30 L455.00 478.61 L455.50 478.94 L456.00 479.28 L456.50 479.63 L457.00 479.99 L457.50 480.35 L458.00 480.72 L458.50 481.12 L459.00 481.53 L459.50 481.95 L460.00 482.39 L460.50 482.82 L461.00 483.25 L461.50 483.65 L462.00 484.03 L462.50 484.39 L463.00 484.72 L463.50 485.01 L464.00 485.27 L464.50 485.50 L465.00 485.70 L465.50 485.86 L466.00 486.00 L466.50 486.09 L467.00 486.16 L467.50 486.21 L468.00 486.23 L468.50 486.23 L469.00 486.21 L469.50 486.16 L470.00 486.09 L470.50 485.99 L471.00 485.88 L471.50 485.77 L472.00 485.67 L472.50 485.58 L473.00 485.52 L473.50 485.48 L474.00 485.47 L474.50 485.48 L475.00 485.51 L475.50 485.56 L476.00 485.64 L476.50 485.73 L477.00 485.84 L477.50 485.97 L478.00 486.12 L478.50 486.28 L479.00 486.43 L479.50 486.59 L480.00 486.73 L480.50 486.85 L481.00 486.97 L481.50 487.07 L482.00 487.15 L482.50 487.23 L483.00 487.30 L483.50 487.36 L484.00 487.40 L484.50 487.44 L485.00 487.46 L485.50 487.48 L486.00 487.49 L486.00 487.50 L386.50 487.50 Z" fill="none" stroke="#1f77b4" stroke-width="0.6" stroke-linejoin="round"/>
<line x1="460.50" y1="351.50" x2="460.50" y2="487.50" stroke="#999" stroke-width="0.64" stroke-dasharray="2.37 1.03"/>
<path d="M409.70 481.30 L414.30 481.30 L412.00 485.90 Z" fill="#1f77b4" stroke="#1f77b4" stroke-width="0.5" stroke-linejoin="miter"/>
</g>
<line x1="401.50" y1="487.50" x2="401.50" y2="489.10" stroke="#333" stroke-width="0.55"/>
<text transform="translate(401.50 497.10) rotate(0.03)" class="t" font-size="8.2" text-anchor="middle">0.0</text>
<line x1="443.50" y1="487.50" x2="443.50" y2="489.10" stroke="#333" stroke-width="0.55"/>
<text transform="translate(443.43 497.10) rotate(0.03)" class="t" font-size="8.2" text-anchor="middle">0.5</text>
<line x1="485.50" y1="487.50" x2="485.50" y2="489.10" stroke="#333" stroke-width="0.55"/>
<text transform="translate(485.37 497.10) rotate(0.03)" class="t" font-size="8.2" text-anchor="middle">1.0</text>
<line x1="374.90" y1="487.50" x2="376.50" y2="487.50" stroke="#333" stroke-width="0.55"/>
<text transform="translate(373.40 490.50) rotate(0.03)" class="t" font-size="8.2" text-anchor="end">0.0</text>
<line x1="374.90" y1="468.50" x2="376.50" y2="468.50" stroke="#333" stroke-width="0.55"/>
<text transform="translate(373.40 471.28) rotate(0.03)" class="t" font-size="8.2" text-anchor="end">0.5</text>
<line x1="374.90" y1="449.50" x2="376.50" y2="449.50" stroke="#333" stroke-width="0.55"/>
<text transform="translate(373.40 452.06) rotate(0.03)" class="t" font-size="8.2" text-anchor="end">1.0</text>
<line x1="374.90" y1="429.50" x2="376.50" y2="429.50" stroke="#333" stroke-width="0.55"/>
<text transform="translate(373.40 432.84) rotate(0.03)" class="t" font-size="8.2" text-anchor="end">1.5</text>
<line x1="374.90" y1="410.50" x2="376.50" y2="410.50" stroke="#333" stroke-width="0.55"/>
<text transform="translate(373.40 413.62) rotate(0.03)" class="t" font-size="8.2" text-anchor="end">2.0</text>
<line x1="374.90" y1="391.50" x2="376.50" y2="391.50" stroke="#333" stroke-width="0.55"/>
<text transform="translate(373.40 394.40) rotate(0.03)" class="t" font-size="8.2" text-anchor="end">2.5</text>
<line x1="374.90" y1="372.50" x2="376.50" y2="372.50" stroke="#333" stroke-width="0.55"/>
<text transform="translate(373.40 375.18) rotate(0.03)" class="t" font-size="8.2" text-anchor="end">3.0</text>
<line x1="374.90" y1="352.50" x2="376.50" y2="352.50" stroke="#333" stroke-width="0.55"/>
<text transform="translate(373.40 355.96) rotate(0.03)" class="t" font-size="8.2" text-anchor="end">3.5</text>
<rect x="376.50" y="351.50" width="134.00" height="136.00" fill="none" stroke="#333" stroke-width="0.55"/>
<text transform="translate(356.60 419.50) rotate(-90.03)" font-size="10.6" text-anchor="middle">Density</text>
<text transform="translate(442.70 508.50) rotate(0.03)" font-size="10.6" text-anchor="middle">hERG <tspan dx="-1.4">↓</tspan></text>
</g>
<g id="ax11">
<g clip-path="url(#c11)">
<path d="M558.50 487.48 L559.00 487.47 L559.50 487.46 L560.00 487.44 L560.50 487.42 L561.00 487.39 L561.50 487.35 L562.00 487.30 L562.50 487.23 L563.00 487.15 L563.50 487.05 L564.00 486.94 L564.50 486.80 L565.00 486.63 L565.50 486.44 L566.00 486.23 L566.50 485.99 L567.00 485.72 L567.50 485.42 L568.00 485.08 L568.50 484.72 L569.00 484.31 L569.50 483.87 L570.00 483.38 L570.50 482.83 L571.00 482.23 L571.50 481.55 L572.00 480.80 L572.50 479.96 L573.00 479.03 L573.50 478.00 L574.00 476.87 L574.50 475.64 L575.00 474.31 L575.50 472.89 L576.00 471.36 L576.50 469.75 L577.00 468.05 L577.50 466.25 L578.00 464.35 L578.50 462.35 L579.00 460.23 L579.50 457.98 L580.00 455.60 L580.50 453.07 L581.00 450.39 L581.50 447.57 L582.00 444.61 L582.50 441.52 L583.00 438.34 L583.50 435.08 L584.00 431.77 L584.50 428.43 L585.00 425.09 L585.50 421.74 L586.00 418.41 L586.50 415.08 L587.00 411.76 L587.50 408.44 L588.00 405.10 L588.50 401.75 L589.00 398.39 L589.50 395.03 L590.00 391.69 L590.50 388.39 L591.00 385.16 L591.50 382.03 L592.00 379.03 L592.50 376.20 L593.00 373.55 L593.50 371.12 L594.00 368.90 L594.50 366.91 L595.00 365.14 L595.50 363.61 L596.00 362.29 L596.50 361.18 L597.00 360.26 L597.50 359.52 L598.00 358.94 L598.50 358.49 L599.00 358.16 L599.50 357.93 L600.00 357.80 L600.50 357.75 L601.00 357.80 L601.50 357.95 L602.00 358.23 L602.50 358.65 L603.00 359.22 L603.50 359.97 L604.00 360.90 L604.50 362.00 L605.00 363.26 L605.50 364.65 L606.00 366.14 L606.50 367.68 L607.00 369.25 L607.50 370.81 L608.00 372.32 L608.50 373.77 L609.00 375.15 L609.50 376.44 L610.00 377.65 L610.50 378.77 L611.00 379.82 L611.50 380.78 L612.00 381.67 L612.50 382.48 L613.00 383.20 L613.50 383.85 L614.00 384.40 L614.50 384.87 L615.00 385.26 L615.50 385.58 L616.00 385.82 L616.50 386.01 L617.00 386.14 L617.50 386.24 L618.00 386.31 L618.50 386.36 L619.00 386.40 L619.50 386.44 L620.00 386.48 L620.50 386.53 L621.00 386.59 L621.50 386.68 L622.00 386.80 L622.50 386.95 L623.00 387.14 L623.50 387.38 L624.00 387.68 L624.50 388.04 L625.00 388.47 L625.50 388.96 L626.00 389.51 L626.50 390.13 L627.00 390.81 L627.50 391.55 L628.00 392.34 L628.50 393.17 L629.00 394.06 L629.50 394.98 L630.00 395.96 L630.50 396.97 L631.00 398.04 L631.50 399.15 L632.00 400.31 L632.50 401.50 L633.00 402.73 L633.50 403.99 L634.00 405.27 L634.50 406.57 L635.00 407.88 L635.50 409.21 L636.00 410.55 L636.50 411.93 L637.00 413.34 L637.50 414.78 L638.00 416.27 L638.50 417.79 L639.00 419.33 L639.50 420.89 L640.00 422.45 L640.50 423.99 L641.00 425.49 L641.50 426.94 L642.00 428.33 L642.50 429.65 L643.00 430.93 L643.50 432.16 L644.00 433.37 L644.50 434.57 L645.00 435.78 L645.50 437.02 L646.00 438.29 L646.50 439.60 L647.00 440.94 L647.50 442.32 L648.00 443.73 L648.50 445.14 L649.00 446.56 L649.50 447.97 L650.00 449.37 L650.50 450.76 L651.00 452.15 L651.50 453.52 L652.00 454.90 L652.50 456.29 L653.00 457.68 L653.50 459.09 L654.00 460.51 L654.50 461.94 L655.00 463.38 L655.50 464.83 L656.00 466.27 L656.50 467.69 L657.00 469.09 L657.50 470.46 L658.00 471.78 L658.50 473.06 L659.00 474.28 L659.50 475.45 L660.00 476.55 L660.50 477.59 L661.00 478.56 L661.50 479.47 L662.00 480.32 L662.50 481.10 L663.00 481.82 L663.50 482.48 L664.00 483.08 L664.50 483.63 L665.00 484.12 L665.50 484.55 L666.00 484.94 L666.50 485.27 L667.00 485.56 L667.50 485.82 L668.00 486.03 L668.50 486.22 L669.00 486.38 L669.50 486.51 L670.00 486.63 L670.50 486.73 L671.00 486.83 L671.50 486.91 L672.00 486.98 L672.50 487.05 L673.00 487.11 L673.50 487.16 L674.00 487.22 L674.50 487.26 L675.00 487.30 L675.50 487.34 L676.00 487.37 L676.50 487.40 L677.00 487.42 L677.50 487.44 L678.00 487.45 L678.50 487.46 L679.00 487.47 L679.50 487.48 L679.50 487.50 L558.50 487.50 Z" fill="#ff7f0e" fill-opacity="0.25" stroke="none"/>
<path d="M558.50 487.48 L559.00 487.47 L559.50 487.46 L560.00 487.44 L560.50 487.42 L561.00 487.39 L561.50 487.35 L562.00 487.30 L562.50 487.23 L563.00 487.15 L563.50 487.05 L564.00 486.94 L564.50 486.80 L565.00 486.63 L565.50 486.44 L566.00 486.23 L566.50 485.99 L567.00 485.72 L567.50 485.42 L568.00 485.08 L568.50 484.72 L569.00 484.31 L569.50 483.87 L570.00 483.38 L570.50 482.83 L571.00 482.23 L571.50 481.55 L572.00 480.80 L572.50 479.96 L573.00 479.03 L573.50 478.00 L574.00 476.87 L574.50 475.64 L575.00 474.31 L575.50 472.89 L576.00 471.36 L576.50 469.75 L577.00 468.05 L577.50 466.25 L578.00 464.35 L578.50 462.35 L579.00 460.23 L579.50 457.98 L580.00 455.60 L580.50 453.07 L581.00 450.39 L581.50 447.57 L582.00 444.61 L582.50 441.52 L583.00 438.34 L583.50 435.08 L584.00 431.77 L584.50 428.43 L585.00 425.09 L585.50 421.74 L586.00 418.41 L586.50 415.08 L587.00 411.76 L587.50 408.44 L588.00 405.10 L588.50 401.75 L589.00 398.39 L589.50 395.03 L590.00 391.69 L590.50 388.39 L591.00 385.16 L591.50 382.03 L592.00 379.03 L592.50 376.20 L593.00 373.55 L593.50 371.12 L594.00 368.90 L594.50 366.91 L595.00 365.14 L595.50 363.61 L596.00 362.29 L596.50 361.18 L597.00 360.26 L597.50 359.52 L598.00 358.94 L598.50 358.49 L599.00 358.16 L599.50 357.93 L600.00 357.80 L600.50 357.75 L601.00 357.80 L601.50 357.95 L602.00 358.23 L602.50 358.65 L603.00 359.22 L603.50 359.97 L604.00 360.90 L604.50 362.00 L605.00 363.26 L605.50 364.65 L606.00 366.14 L606.50 367.68 L607.00 369.25 L607.50 370.81 L608.00 372.32 L608.50 373.77 L609.00 375.15 L609.50 376.44 L610.00 377.65 L610.50 378.77 L611.00 379.82 L611.50 380.78 L612.00 381.67 L612.50 382.48 L613.00 383.20 L613.50 383.85 L614.00 384.40 L614.50 384.87 L615.00 385.26 L615.50 385.58 L616.00 385.82 L616.50 386.01 L617.00 386.14 L617.50 386.24 L618.00 386.31 L618.50 386.36 L619.00 386.40 L619.50 386.44 L620.00 386.48 L620.50 386.53 L621.00 386.59 L621.50 386.68 L622.00 386.80 L622.50 386.95 L623.00 387.14 L623.50 387.38 L624.00 387.68 L624.50 388.04 L625.00 388.47 L625.50 388.96 L626.00 389.51 L626.50 390.13 L627.00 390.81 L627.50 391.55 L628.00 392.34 L628.50 393.17 L629.00 394.06 L629.50 394.98 L630.00 395.96 L630.50 396.97 L631.00 398.04 L631.50 399.15 L632.00 400.31 L632.50 401.50 L633.00 402.73 L633.50 403.99 L634.00 405.27 L634.50 406.57 L635.00 407.88 L635.50 409.21 L636.00 410.55 L636.50 411.93 L637.00 413.34 L637.50 414.78 L638.00 416.27 L638.50 417.79 L639.00 419.33 L639.50 420.89 L640.00 422.45 L640.50 423.99 L641.00 425.49 L641.50 426.94 L642.00 428.33 L642.50 429.65 L643.00 430.93 L643.50 432.16 L644.00 433.37 L644.50 434.57 L645.00 435.78 L645.50 437.02 L646.00 438.29 L646.50 439.60 L647.00 440.94 L647.50 442.32 L648.00 443.73 L648.50 445.14 L649.00 446.56 L649.50 447.97 L650.00 449.37 L650.50 450.76 L651.00 452.15 L651.50 453.52 L652.00 454.90 L652.50 456.29 L653.00 457.68 L653.50 459.09 L654.00 460.51 L654.50 461.94 L655.00 463.38 L655.50 464.83 L656.00 466.27 L656.50 467.69 L657.00 469.09 L657.50 470.46 L658.00 471.78 L658.50 473.06 L659.00 474.28 L659.50 475.45 L660.00 476.55 L660.50 477.59 L661.00 478.56 L661.50 479.47 L662.00 480.32 L662.50 481.10 L663.00 481.82 L663.50 482.48 L664.00 483.08 L664.50 483.63 L665.00 484.12 L665.50 484.55 L666.00 484.94 L666.50 485.27 L667.00 485.56 L667.50 485.82 L668.00 486.03 L668.50 486.22 L669.00 486.38 L669.50 486.51 L670.00 486.63 L670.50 486.73 L671.00 486.83 L671.50 486.91 L672.00 486.98 L672.50 487.05 L673.00 487.11 L673.50 487.16 L674.00 487.22 L674.50 487.26 L675.00 487.30 L675.50 487.34 L676.00 487.37 L676.50 487.40 L677.00 487.42 L677.50 487.44 L678.00 487.45 L678.50 487.46 L679.00 487.47 L679.50 487.48 L679.50 487.50 L558.50 487.50 Z" fill="none" stroke="#ff7f0e" stroke-width="0.6" stroke-linejoin="round"/>
<line x1="634.50" y1="351.50" x2="634.50" y2="487.50" stroke="#999" stroke-width="0.64" stroke-dasharray="2.37 1.03"/>
<path d="M615.70 481.30 L620.30 481.30 L618.00 485.90 Z" fill="#ff7f0e" stroke="#ff7f0e" stroke-width="0.5" stroke-linejoin="miter"/>
</g>
<line x1="575.50" y1="487.50" x2="575.50" y2="489.10" stroke="#333" stroke-width="0.55"/>
<text transform="translate(575.77 497.10) rotate(0.03)" class="t" font-size="8.2" text-anchor="middle">0.0</text>
<line x1="617.50" y1="487.50" x2="617.50" y2="489.10" stroke="#333" stroke-width="0.55"/>
<text transform="translate(617.46 497.10) rotate(0.03)" class="t" font-size="8.2" text-anchor="middle">0.5</text>
<line x1="659.50" y1="487.50" x2="659.50" y2="489.10" stroke="#333" stroke-width="0.55"/>
<text transform="translate(659.39 497.10) rotate(0.03)" class="t" font-size="8.2" text-anchor="middle">1.0</text>
<line x1="548.90" y1="487.50" x2="550.50" y2="487.50" stroke="#333" stroke-width="0.55"/>
<text transform="translate(547.40 490.50) rotate(0.03)" class="t" font-size="8.2" text-anchor="end">0.00</text>
<line x1="548.90" y1="467.50" x2="550.50" y2="467.50" stroke="#333" stroke-width="0.55"/>
<text transform="translate(547.40 470.13) rotate(0.03)" class="t" font-size="8.2" text-anchor="end">0.25</text>
<line x1="548.90" y1="446.50" x2="550.50" y2="446.50" stroke="#333" stroke-width="0.55"/>
<text transform="translate(547.40 449.76) rotate(0.03)" class="t" font-size="8.2" text-anchor="end">0.50</text>
<line x1="548.90" y1="426.50" x2="550.50" y2="426.50" stroke="#333" stroke-width="0.55"/>
<text transform="translate(547.40 429.39) rotate(0.03)" class="t" font-size="8.2" text-anchor="end">0.75</text>
<line x1="548.90" y1="406.50" x2="550.50" y2="406.50" stroke="#333" stroke-width="0.55"/>
<text transform="translate(547.40 409.02) rotate(0.03)" class="t" font-size="8.2" text-anchor="end">1.00</text>
<line x1="548.90" y1="385.50" x2="550.50" y2="385.50" stroke="#333" stroke-width="0.55"/>
<text transform="translate(547.40 388.65) rotate(0.03)" class="t" font-size="8.2" text-anchor="end">1.25</text>
<line x1="548.90" y1="365.50" x2="550.50" y2="365.50" stroke="#333" stroke-width="0.55"/>
<text transform="translate(547.40 368.28) rotate(0.03)" class="t" font-size="8.2" text-anchor="end">1.50</text>
<rect x="550.50" y="351.50" width="134.00" height="136.00" fill="none" stroke="#333" stroke-width="0.55"/>
<text transform="translate(525.20 419.50) rotate(-90.03)" font-size="10.6" text-anchor="middle">Density</text>
<text transform="translate(616.70 508.50) rotate(0.03)" font-size="10.6" text-anchor="middle">ROA <tspan dx="-1.4">↓</tspan></text>
</g>
</svg>
</body></html>
